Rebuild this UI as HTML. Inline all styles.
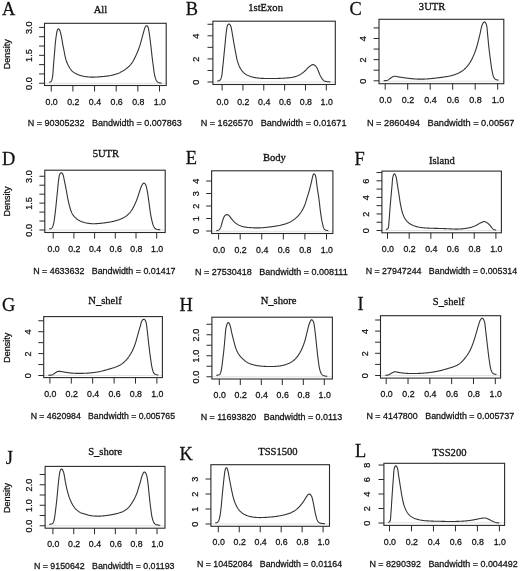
<!DOCTYPE html>
<html><head><meta charset="utf-8"><style>
html,body{margin:0;padding:0;background:#fff;}
svg{display:block;filter:blur(0.35px);}
.s{font-family:"Liberation Sans",sans-serif;fill:#111;}
.r{font-family:"Liberation Serif",serif;fill:#111;}
</style></head><body>
<svg width="520" height="571" viewBox="0 0 520 571">
<rect width="520" height="571" fill="#fff"/>
<line x1="44.50" y1="83.25" x2="166.20" y2="83.25" stroke="#ccc" stroke-width="0.60"/>
<rect x="44.50" y="23.30" width="121.70" height="62.20" fill="none" stroke="#2a2a2a" stroke-width="1.10"/>
<line x1="51.25" y1="85.50" x2="51.25" y2="91.50" stroke="#2a2a2a" stroke-width="1.00"/>
<text transform="translate(51.65,105.20) scale(1.0000,1.0650)" text-anchor="middle" class="s" font-size="8.80" stroke="#111" stroke-width="0.25">0.0</text>
<line x1="72.90" y1="85.50" x2="72.90" y2="91.50" stroke="#2a2a2a" stroke-width="1.00"/>
<text transform="translate(73.30,105.20) scale(1.0000,1.0650)" text-anchor="middle" class="s" font-size="8.80" stroke="#111" stroke-width="0.25">0.2</text>
<line x1="94.55" y1="85.50" x2="94.55" y2="91.50" stroke="#2a2a2a" stroke-width="1.00"/>
<text transform="translate(94.95,105.20) scale(1.0000,1.0650)" text-anchor="middle" class="s" font-size="8.80" stroke="#111" stroke-width="0.25">0.4</text>
<line x1="116.20" y1="85.50" x2="116.20" y2="91.50" stroke="#2a2a2a" stroke-width="1.00"/>
<text transform="translate(116.60,105.20) scale(1.0000,1.0650)" text-anchor="middle" class="s" font-size="8.80" stroke="#111" stroke-width="0.25">0.6</text>
<line x1="137.85" y1="85.50" x2="137.85" y2="91.50" stroke="#2a2a2a" stroke-width="1.00"/>
<text transform="translate(138.25,105.20) scale(1.0000,1.0650)" text-anchor="middle" class="s" font-size="8.80" stroke="#111" stroke-width="0.25">0.8</text>
<line x1="159.50" y1="85.50" x2="159.50" y2="91.50" stroke="#2a2a2a" stroke-width="1.00"/>
<text transform="translate(159.90,105.20) scale(1.0000,1.0650)" text-anchor="middle" class="s" font-size="8.80" stroke="#111" stroke-width="0.25">1.0</text>
<line x1="39.10" y1="83.25" x2="44.50" y2="83.25" stroke="#2a2a2a" stroke-width="1.00"/>
<line x1="39.10" y1="73.94" x2="44.50" y2="73.94" stroke="#2a2a2a" stroke-width="1.00"/>
<line x1="39.10" y1="64.63" x2="44.50" y2="64.63" stroke="#2a2a2a" stroke-width="1.00"/>
<line x1="39.10" y1="55.33" x2="44.50" y2="55.33" stroke="#2a2a2a" stroke-width="1.00"/>
<line x1="39.10" y1="46.02" x2="44.50" y2="46.02" stroke="#2a2a2a" stroke-width="1.00"/>
<line x1="39.10" y1="36.71" x2="44.50" y2="36.71" stroke="#2a2a2a" stroke-width="1.00"/>
<line x1="39.10" y1="27.40" x2="44.50" y2="27.40" stroke="#2a2a2a" stroke-width="1.00"/>
<text transform="translate(31.90,83.55) rotate(-90)" text-anchor="middle" class="s" font-size="9.10" stroke="#111" stroke-width="0.25">0.0</text>
<text transform="translate(31.90,55.60) rotate(-90)" text-anchor="middle" class="s" font-size="9.10" stroke="#111" stroke-width="0.25">1.5</text>
<text transform="translate(31.90,27.70) rotate(-90)" text-anchor="middle" class="s" font-size="9.10" stroke="#111" stroke-width="0.25">3.0</text>
<text transform="translate(9.70,54.20) rotate(-90)" text-anchor="middle" class="s" font-size="9.00" stroke="#111" stroke-width="0.25">Density</text>
<text transform="translate(2.00,14.50) scale(1.0000,1.0650)" class="r" font-size="18.40" stroke="#111" stroke-width="0.25">A</text>
<text transform="translate(100.40,12.80) scale(1.0000,1.0650)" text-anchor="middle" class="r" font-size="10.60" stroke="#111" stroke-width="0.30">All</text>
<text transform="translate(27.65,126.25) scale(1.0000,1.0650)" class="s" font-size="9.02" xml:space="preserve" stroke="#111" stroke-width="0.25">N = 90305232   Bandwidth = 0.007863</text>
<path d="M49.10,82.24 49.71,82.09 50.32,81.91 50.86,81.65 51.32,81.21 51.63,80.67 51.85,80.07 52.01,79.45 52.14,78.81 52.26,78.17 52.37,77.53 52.47,76.89 52.58,76.25 52.67,75.61 52.75,74.96 52.83,74.32 52.89,73.67 52.95,73.02 53.00,72.38 53.05,71.73 53.09,71.08 53.14,70.43 53.18,69.78 53.22,69.13 53.26,68.48 53.31,67.84 53.35,67.19 53.40,66.54 53.45,65.89 53.50,65.24 53.55,64.60 53.61,63.95 53.66,63.30 53.71,62.65 53.77,62.00 53.82,61.36 53.88,60.71 53.93,60.06 53.99,59.41 54.04,58.77 54.10,58.12 54.15,57.47 54.21,56.82 54.26,56.18 54.32,55.53 54.37,54.88 54.43,54.23 54.48,53.58 54.54,52.94 54.59,52.29 54.64,51.64 54.69,50.99 54.74,50.34 54.79,49.70 54.84,49.05 54.89,48.40 54.94,47.75 55.00,47.10 55.05,46.46 55.10,45.81 55.16,45.16 55.22,44.51 55.28,43.87 55.34,43.22 55.40,42.57 55.47,41.93 55.54,41.28 55.62,40.64 55.69,39.99 55.77,39.34 55.85,38.70 55.93,38.05 56.01,37.41 56.10,36.77 56.20,36.12 56.29,35.48 56.39,34.84 56.50,34.20 56.60,33.55 56.70,32.91 56.81,32.27 56.94,31.63 57.09,31.00 57.27,30.38 57.50,29.78 57.79,29.25 58.25,28.85 58.84,28.95 59.25,29.39 59.57,29.93 59.84,30.52 60.06,31.13 60.26,31.75 60.43,32.37 60.60,33.00 60.75,33.63 60.91,34.26 61.05,34.90 61.19,35.53 61.32,36.17 61.44,36.81 61.56,37.44 61.68,38.08 61.80,38.72 61.91,39.36 62.02,40.00 62.13,40.64 62.24,41.29 62.35,41.93 62.45,42.57 62.56,43.21 62.67,43.85 62.79,44.49 62.91,45.13 63.03,45.77 63.16,46.40 63.29,47.04 63.42,47.68 63.55,48.31 63.68,48.95 63.81,49.59 63.93,50.23 64.05,50.86 64.16,51.50 64.28,52.14 64.39,52.78 64.51,53.42 64.64,54.06 64.76,54.70 64.89,55.34 65.03,55.97 65.16,56.61 65.31,57.24 65.46,57.87 65.63,58.50 65.80,59.13 65.99,59.75 66.18,60.37 66.38,60.99 66.59,61.60 66.82,62.21 67.05,62.82 67.31,63.41 67.57,64.01 67.85,64.59 68.14,65.18 68.44,65.75 68.76,66.32 69.08,66.88 69.41,67.44 69.75,67.99 70.10,68.54 70.47,69.08 70.85,69.60 71.26,70.11 71.69,70.59 72.15,71.05 72.64,71.48 73.14,71.88 73.66,72.27 74.20,72.63 74.75,72.98 75.32,73.30 75.89,73.60 76.47,73.89 77.06,74.17 77.65,74.44 78.25,74.69 78.85,74.93 79.46,75.16 80.08,75.37 80.70,75.56 81.32,75.74 81.95,75.91 82.58,76.06 83.22,76.20 83.85,76.33 84.49,76.44 85.13,76.55 85.78,76.65 86.42,76.74 87.07,76.82 87.71,76.89 88.36,76.95 89.01,77.00 89.65,77.05 90.30,77.08 90.95,77.11 91.60,77.12 92.25,77.13 92.90,77.13 93.55,77.12 94.20,77.11 94.85,77.09 95.50,77.06 96.15,77.03 96.80,77.00 97.45,76.96 98.10,76.92 98.75,76.87 99.39,76.83 100.04,76.78 100.69,76.72 101.34,76.67 101.99,76.62 102.63,76.56 103.28,76.50 103.93,76.44 104.57,76.38 105.22,76.31 105.87,76.24 106.51,76.17 107.16,76.09 107.80,76.01 108.45,75.91 109.09,75.80 109.73,75.69 110.36,75.57 111.00,75.43 111.63,75.29 112.27,75.15 112.90,74.99 113.53,74.82 114.15,74.65 114.78,74.47 115.40,74.28 116.02,74.08 116.63,73.88 117.25,73.66 117.85,73.43 118.46,73.19 119.05,72.93 119.65,72.66 120.23,72.38 120.81,72.08 121.38,71.77 121.95,71.46 122.51,71.13 123.07,70.81 123.63,70.47 124.18,70.12 124.72,69.76 125.26,69.40 125.78,69.01 126.30,68.62 126.81,68.21 127.31,67.80 127.80,67.37 128.28,66.94 128.75,66.49 129.22,66.04 129.67,65.57 130.12,65.10 130.55,64.62 130.97,64.12 131.38,63.62 131.77,63.10 132.14,62.57 132.50,62.03 132.84,61.47 133.17,60.91 133.49,60.34 133.80,59.78 134.11,59.20 134.41,58.63 134.71,58.05 135.00,57.47 135.29,56.89 135.57,56.30 135.85,55.71 136.12,55.12 136.39,54.53 136.65,53.94 136.91,53.34 137.16,52.74 137.41,52.14 137.66,51.54 137.90,50.94 138.14,50.34 138.38,49.73 138.61,49.12 138.84,48.52 139.07,47.91 139.29,47.29 139.50,46.68 139.71,46.06 139.91,45.45 140.10,44.83 140.29,44.20 140.47,43.58 140.65,42.96 140.83,42.33 141.01,41.71 141.18,41.08 141.35,40.45 141.52,39.82 141.69,39.20 141.86,38.57 142.02,37.94 142.19,37.31 142.36,36.68 142.52,36.06 142.69,35.43 142.86,34.80 143.03,34.17 143.20,33.54 143.37,32.92 143.54,32.29 143.71,31.66 143.88,31.04 144.06,30.41 144.25,29.79 144.44,29.17 144.63,28.55 144.83,27.93 145.05,27.32 145.33,26.74 145.68,26.23 146.15,25.84 146.76,25.74 147.31,26.03 147.69,26.49 147.99,27.05 148.21,27.66 148.38,28.28 148.51,28.91 148.64,29.55 148.75,30.19 148.87,30.83 148.98,31.47 149.09,32.11 149.19,32.75 149.29,33.40 149.38,34.04 149.47,34.68 149.56,35.33 149.64,35.97 149.72,36.62 149.80,37.26 149.88,37.91 149.97,38.55 150.05,39.20 150.13,39.84 150.22,40.49 150.30,41.13 150.38,41.78 150.46,42.42 150.54,43.07 150.62,43.71 150.69,44.36 150.77,45.00 150.85,45.65 150.92,46.29 151.00,46.94 151.07,47.58 151.15,48.23 151.22,48.88 151.29,49.52 151.36,50.17 151.43,50.81 151.50,51.46 151.57,52.11 151.64,52.75 151.71,53.40 151.78,54.05 151.85,54.69 151.92,55.34 151.99,55.98 152.06,56.63 152.14,57.28 152.22,57.92 152.30,58.57 152.38,59.21 152.46,59.86 152.54,60.50 152.63,61.14 152.71,61.79 152.80,62.43 152.89,63.08 152.98,63.72 153.07,64.36 153.15,65.01 153.24,65.65 153.33,66.30 153.42,66.94 153.50,67.59 153.58,68.23 153.66,68.88 153.74,69.52 153.81,70.17 153.89,70.81 153.98,71.46 154.07,72.10 154.16,72.74 154.27,73.38 154.39,74.02 154.52,74.66 154.66,75.29 154.82,75.92 154.98,76.55 155.15,77.18 155.33,77.80 155.53,78.42 155.75,79.03 155.99,79.63 156.27,80.22 156.58,80.79 156.94,81.32 157.36,81.80 157.86,82.19 158.41,82.49 159.02,82.70 159.65,82.85 160.28,82.95 160.89,83.02 161.50,83.08 161.61,83.09" fill="none" stroke="#333" stroke-width="1.10" stroke-linejoin="round"/>
<line x1="212.90" y1="82.00" x2="335.30" y2="82.00" stroke="#ccc" stroke-width="0.60"/>
<rect x="212.90" y="21.20" width="122.40" height="63.30" fill="none" stroke="#2a2a2a" stroke-width="1.10"/>
<line x1="222.10" y1="84.50" x2="222.10" y2="90.50" stroke="#2a2a2a" stroke-width="1.00"/>
<text transform="translate(222.50,104.90) scale(1.0000,1.0650)" text-anchor="middle" class="s" font-size="8.80" stroke="#111" stroke-width="0.25">0.0</text>
<line x1="242.94" y1="84.50" x2="242.94" y2="90.50" stroke="#2a2a2a" stroke-width="1.00"/>
<text transform="translate(243.34,104.90) scale(1.0000,1.0650)" text-anchor="middle" class="s" font-size="8.80" stroke="#111" stroke-width="0.25">0.2</text>
<line x1="263.78" y1="84.50" x2="263.78" y2="90.50" stroke="#2a2a2a" stroke-width="1.00"/>
<text transform="translate(264.18,104.90) scale(1.0000,1.0650)" text-anchor="middle" class="s" font-size="8.80" stroke="#111" stroke-width="0.25">0.4</text>
<line x1="284.62" y1="84.50" x2="284.62" y2="90.50" stroke="#2a2a2a" stroke-width="1.00"/>
<text transform="translate(285.02,104.90) scale(1.0000,1.0650)" text-anchor="middle" class="s" font-size="8.80" stroke="#111" stroke-width="0.25">0.6</text>
<line x1="305.46" y1="84.50" x2="305.46" y2="90.50" stroke="#2a2a2a" stroke-width="1.00"/>
<text transform="translate(305.86,104.90) scale(1.0000,1.0650)" text-anchor="middle" class="s" font-size="8.80" stroke="#111" stroke-width="0.25">0.8</text>
<line x1="326.30" y1="84.50" x2="326.30" y2="90.50" stroke="#2a2a2a" stroke-width="1.00"/>
<text transform="translate(326.70,104.90) scale(1.0000,1.0650)" text-anchor="middle" class="s" font-size="8.80" stroke="#111" stroke-width="0.25">1.0</text>
<line x1="207.50" y1="82.00" x2="212.90" y2="82.00" stroke="#2a2a2a" stroke-width="1.00"/>
<line x1="207.50" y1="70.45" x2="212.90" y2="70.45" stroke="#2a2a2a" stroke-width="1.00"/>
<line x1="207.50" y1="58.90" x2="212.90" y2="58.90" stroke="#2a2a2a" stroke-width="1.00"/>
<line x1="207.50" y1="47.35" x2="212.90" y2="47.35" stroke="#2a2a2a" stroke-width="1.00"/>
<line x1="207.50" y1="35.80" x2="212.90" y2="35.80" stroke="#2a2a2a" stroke-width="1.00"/>
<line x1="207.50" y1="24.25" x2="212.90" y2="24.25" stroke="#2a2a2a" stroke-width="1.00"/>
<text transform="translate(198.70,82.30) rotate(-90)" text-anchor="middle" class="s" font-size="9.10" stroke="#111" stroke-width="0.25">0</text>
<text transform="translate(198.70,59.20) rotate(-90)" text-anchor="middle" class="s" font-size="9.10" stroke="#111" stroke-width="0.25">2</text>
<text transform="translate(198.70,36.10) rotate(-90)" text-anchor="middle" class="s" font-size="9.10" stroke="#111" stroke-width="0.25">4</text>
<text transform="translate(185.75,14.50) scale(1.0000,1.0650)" class="r" font-size="18.40" stroke="#111" stroke-width="0.25">B</text>
<text transform="translate(265.60,10.90) scale(1.0000,1.0650)" text-anchor="middle" class="r" font-size="10.60" stroke="#111" stroke-width="0.30">1stExon</text>
<text transform="translate(200.65,126.25) scale(1.0000,1.0650)" class="s" font-size="9.11" xml:space="preserve" stroke="#111" stroke-width="0.25">N = 1626570   Bandwidth = 0.01671</text>
<path d="M217.30,81.12 217.90,80.93 218.48,80.78 219.09,80.62 219.66,80.39 220.15,80.02 220.53,79.54 220.83,78.97 221.06,78.37 221.27,77.76 221.45,77.13 221.61,76.50 221.75,75.87 221.87,75.23 221.97,74.59 222.06,73.94 222.14,73.30 222.21,72.65 222.27,72.01 222.33,71.36 222.40,70.71 222.45,70.07 222.51,69.42 222.58,68.77 222.64,68.12 222.71,67.48 222.78,66.83 222.86,66.19 222.92,65.54 222.99,64.89 223.06,64.25 223.12,63.60 223.19,62.95 223.25,62.31 223.32,61.66 223.38,61.01 223.44,60.37 223.51,59.72 223.57,59.07 223.63,58.42 223.69,57.78 223.76,57.13 223.82,56.48 223.89,55.84 223.95,55.19 224.02,54.54 224.08,53.90 224.15,53.25 224.21,52.60 224.28,51.96 224.34,51.31 224.41,50.66 224.47,50.02 224.54,49.37 224.60,48.72 224.67,48.08 224.73,47.43 224.80,46.78 224.86,46.14 224.93,45.49 224.99,44.84 225.06,44.20 225.12,43.55 225.19,42.90 225.25,42.26 225.31,41.61 225.37,40.96 225.43,40.31 225.49,39.67 225.54,39.02 225.60,38.37 225.66,37.72 225.72,37.08 225.79,36.43 225.85,35.78 225.92,35.14 225.98,34.49 226.06,33.84 226.13,33.20 226.21,32.55 226.30,31.91 226.38,31.27 226.47,30.62 226.55,29.98 226.64,29.33 226.73,28.69 226.83,28.05 226.95,27.41 227.09,26.78 227.27,26.15 227.49,25.54 227.76,24.96 228.10,24.44 228.55,24.05 229.14,23.97 229.68,24.28 230.07,24.75 230.40,25.30 230.67,25.89 230.89,26.49 231.07,27.11 231.23,27.74 231.36,28.38 231.49,29.02 231.60,29.66 231.71,30.30 231.82,30.94 231.93,31.58 232.04,32.22 232.16,32.86 232.27,33.50 232.39,34.14 232.51,34.78 232.62,35.42 232.73,36.06 232.83,36.70 232.94,37.34 233.04,37.98 233.15,38.63 233.25,39.27 233.35,39.91 233.46,40.55 233.56,41.19 233.67,41.83 233.78,42.47 233.88,43.11 234.00,43.76 234.11,44.40 234.22,45.04 234.34,45.67 234.46,46.31 234.58,46.95 234.70,47.59 234.82,48.23 234.94,48.87 235.06,49.51 235.18,50.15 235.30,50.78 235.43,51.42 235.55,52.06 235.68,52.70 235.81,53.34 235.93,53.97 236.05,54.61 236.17,55.25 236.29,55.89 236.41,56.53 236.53,57.17 236.65,57.81 236.78,58.44 236.92,59.08 237.06,59.71 237.22,60.34 237.39,60.97 237.58,61.59 237.77,62.21 237.97,62.83 238.18,63.44 238.40,64.06 238.63,64.67 238.86,65.27 239.11,65.87 239.38,66.46 239.66,67.05 239.95,67.63 240.27,68.20 240.60,68.76 240.95,69.30 241.31,69.84 241.69,70.37 242.08,70.89 242.49,71.39 242.92,71.88 243.36,72.36 243.82,72.82 244.30,73.25 244.80,73.66 245.32,74.05 245.86,74.41 246.42,74.74 246.99,75.05 247.57,75.34 248.16,75.61 248.76,75.86 249.36,76.10 249.98,76.32 250.59,76.53 251.21,76.72 251.84,76.90 252.46,77.07 253.10,77.22 253.73,77.36 254.37,77.49 255.01,77.60 255.65,77.71 256.29,77.81 256.93,77.90 257.58,77.98 258.22,78.06 258.87,78.13 259.52,78.19 260.16,78.24 260.81,78.29 261.46,78.33 262.11,78.37 262.76,78.40 263.41,78.42 264.06,78.44 264.71,78.46 265.36,78.47 266.01,78.48 266.66,78.49 267.31,78.49 267.96,78.50 268.61,78.50 269.26,78.50 269.91,78.50 270.56,78.50 271.21,78.50 271.86,78.50 272.51,78.49 273.16,78.49 273.81,78.49 274.46,78.48 275.11,78.48 275.76,78.47 276.41,78.46 277.06,78.45 277.71,78.43 278.36,78.42 279.01,78.40 279.66,78.37 280.31,78.35 280.96,78.32 281.61,78.30 282.25,78.26 282.90,78.23 283.55,78.20 284.20,78.16 284.85,78.12 285.50,78.07 286.15,78.03 286.80,77.98 287.44,77.92 288.09,77.86 288.74,77.80 289.38,77.73 290.03,77.65 290.67,77.56 291.31,77.46 291.96,77.36 292.59,77.24 293.23,77.11 293.86,76.97 294.50,76.81 295.12,76.63 295.74,76.45 296.36,76.24 296.97,76.02 297.57,75.78 298.17,75.52 298.76,75.25 299.34,74.96 299.92,74.66 300.48,74.34 301.03,74.00 301.58,73.64 302.11,73.26 302.63,72.88 303.14,72.48 303.64,72.07 304.14,71.65 304.63,71.22 305.11,70.78 305.57,70.32 306.02,69.86 306.46,69.38 306.90,68.90 307.35,68.43 307.81,67.97 308.28,67.52 308.77,67.09 309.27,66.68 309.77,66.28 310.29,65.88 310.82,65.50 311.36,65.15 311.93,64.86 312.53,64.67 313.14,64.62 313.74,64.73 314.31,64.99 314.84,65.35 315.33,65.77 315.78,66.23 316.19,66.73 316.56,67.26 316.88,67.82 317.18,68.40 317.45,68.99 317.71,69.59 317.96,70.19 318.22,70.78 318.48,71.38 318.73,71.98 318.98,72.58 319.23,73.18 319.47,73.78 319.72,74.38 319.97,74.98 320.24,75.57 320.53,76.15 320.84,76.72 321.16,77.29 321.49,77.85 321.84,78.39 322.21,78.93 322.61,79.44 323.04,79.92 323.52,80.34 324.05,80.70 324.63,80.99 325.23,81.21 325.85,81.39 326.49,81.52 327.13,81.62 327.77,81.70 328.42,81.75 329.06,81.80 329.66,81.83 330.25,81.86" fill="none" stroke="#333" stroke-width="1.10" stroke-linejoin="round"/>
<line x1="379.00" y1="81.25" x2="503.80" y2="81.25" stroke="#ccc" stroke-width="0.60"/>
<rect x="379.00" y="19.30" width="124.80" height="64.40" fill="none" stroke="#2a2a2a" stroke-width="1.10"/>
<line x1="385.20" y1="83.70" x2="385.20" y2="89.70" stroke="#2a2a2a" stroke-width="1.00"/>
<text transform="translate(385.60,103.35) scale(1.0000,1.0650)" text-anchor="middle" class="s" font-size="9.00" stroke="#111" stroke-width="0.25">0.0</text>
<line x1="407.70" y1="83.70" x2="407.70" y2="89.70" stroke="#2a2a2a" stroke-width="1.00"/>
<text transform="translate(408.10,103.35) scale(1.0000,1.0650)" text-anchor="middle" class="s" font-size="9.00" stroke="#111" stroke-width="0.25">0.2</text>
<line x1="430.20" y1="83.70" x2="430.20" y2="89.70" stroke="#2a2a2a" stroke-width="1.00"/>
<text transform="translate(430.60,103.35) scale(1.0000,1.0650)" text-anchor="middle" class="s" font-size="9.00" stroke="#111" stroke-width="0.25">0.4</text>
<line x1="452.70" y1="83.70" x2="452.70" y2="89.70" stroke="#2a2a2a" stroke-width="1.00"/>
<text transform="translate(453.10,103.35) scale(1.0000,1.0650)" text-anchor="middle" class="s" font-size="9.00" stroke="#111" stroke-width="0.25">0.6</text>
<line x1="475.20" y1="83.70" x2="475.20" y2="89.70" stroke="#2a2a2a" stroke-width="1.00"/>
<text transform="translate(475.60,103.35) scale(1.0000,1.0650)" text-anchor="middle" class="s" font-size="9.00" stroke="#111" stroke-width="0.25">0.8</text>
<line x1="497.70" y1="83.70" x2="497.70" y2="89.70" stroke="#2a2a2a" stroke-width="1.00"/>
<text transform="translate(498.10,103.35) scale(1.0000,1.0650)" text-anchor="middle" class="s" font-size="9.00" stroke="#111" stroke-width="0.25">1.0</text>
<line x1="373.60" y1="80.80" x2="379.00" y2="80.80" stroke="#2a2a2a" stroke-width="1.00"/>
<line x1="373.60" y1="70.22" x2="379.00" y2="70.22" stroke="#2a2a2a" stroke-width="1.00"/>
<line x1="373.60" y1="59.64" x2="379.00" y2="59.64" stroke="#2a2a2a" stroke-width="1.00"/>
<line x1="373.60" y1="49.06" x2="379.00" y2="49.06" stroke="#2a2a2a" stroke-width="1.00"/>
<line x1="373.60" y1="38.48" x2="379.00" y2="38.48" stroke="#2a2a2a" stroke-width="1.00"/>
<line x1="373.60" y1="27.90" x2="379.00" y2="27.90" stroke="#2a2a2a" stroke-width="1.00"/>
<text transform="translate(365.90,81.10) rotate(-90)" text-anchor="middle" class="s" font-size="9.10" stroke="#111" stroke-width="0.25">0</text>
<text transform="translate(365.90,59.94) rotate(-90)" text-anchor="middle" class="s" font-size="9.10" stroke="#111" stroke-width="0.25">2</text>
<text transform="translate(365.90,38.78) rotate(-90)" text-anchor="middle" class="s" font-size="9.10" stroke="#111" stroke-width="0.25">4</text>
<text transform="translate(349.50,15.00) scale(1.0000,1.0650)" class="r" font-size="18.40" stroke="#111" stroke-width="0.25">C</text>
<text transform="translate(432.10,9.90) scale(1.0000,1.0650)" text-anchor="middle" class="r" font-size="10.60" stroke="#111" stroke-width="0.30">3UTR</text>
<text transform="translate(366.90,125.50) scale(1.0000,1.0650)" class="s" font-size="9.22" xml:space="preserve" stroke="#111" stroke-width="0.25">N = 2860494   Bandwidth = 0.00567</text>
<path d="M383.72,80.73 384.35,80.68 384.95,80.64 385.59,80.60 386.24,80.53 386.87,80.43 387.48,80.24 388.05,79.96 388.59,79.61 389.11,79.22 389.63,78.82 390.15,78.44 390.68,78.06 391.22,77.70 391.76,77.34 392.31,76.99 392.87,76.68 393.46,76.43 394.08,76.28 394.71,76.24 395.35,76.30 395.98,76.42 396.62,76.55 397.25,76.68 397.89,76.79 398.54,76.89 399.18,76.99 399.82,77.09 400.46,77.19 401.10,77.30 401.75,77.40 402.39,77.50 403.03,77.60 403.67,77.69 404.32,77.79 404.96,77.88 405.60,77.96 406.25,78.05 406.89,78.13 407.54,78.21 408.18,78.29 408.83,78.37 409.47,78.44 410.12,78.51 410.77,78.58 411.41,78.65 412.06,78.71 412.71,78.77 413.36,78.83 414.00,78.88 414.65,78.93 415.30,78.97 415.95,79.01 416.60,79.05 417.25,79.08 417.90,79.11 418.55,79.13 419.20,79.14 419.85,79.16 420.50,79.16 421.15,79.17 421.80,79.16 422.45,79.15 423.10,79.14 423.74,79.12 424.39,79.10 425.04,79.07 425.69,79.04 426.34,79.01 426.99,78.96 427.64,78.92 428.29,78.87 428.93,78.81 429.58,78.76 430.23,78.69 430.88,78.63 431.52,78.56 432.17,78.49 432.81,78.42 433.46,78.35 434.11,78.28 434.75,78.20 435.40,78.13 436.04,78.05 436.69,77.98 437.33,77.90 437.98,77.82 438.63,77.75 439.27,77.67 439.92,77.59 440.56,77.50 441.21,77.42 441.85,77.34 442.49,77.25 443.14,77.16 443.78,77.07 444.42,76.97 445.07,76.87 445.71,76.77 446.35,76.66 446.99,76.55 447.63,76.44 448.27,76.32 448.91,76.20 449.54,76.07 450.18,75.93 450.81,75.79 451.44,75.64 452.07,75.47 452.70,75.29 453.32,75.11 453.94,74.91 454.55,74.69 455.16,74.47 455.77,74.24 456.37,74.00 456.97,73.75 457.57,73.49 458.16,73.21 458.74,72.93 459.32,72.64 459.90,72.33 460.47,72.02 461.02,71.69 461.58,71.34 462.12,70.98 462.65,70.61 463.17,70.22 463.68,69.82 464.18,69.40 464.66,68.97 465.14,68.53 465.60,68.07 466.06,67.61 466.50,67.13 466.93,66.65 467.35,66.15 467.77,65.65 468.17,65.14 468.56,64.63 468.94,64.10 469.31,63.56 469.67,63.02 470.01,62.47 470.35,61.91 470.68,61.35 471.00,60.79 471.31,60.22 471.61,59.64 471.91,59.06 472.20,58.48 472.49,57.90 472.77,57.31 473.04,56.72 473.32,56.13 473.58,55.54 473.84,54.95 474.09,54.35 474.34,53.74 474.57,53.14 474.81,52.53 475.03,51.92 475.25,51.31 475.46,50.70 475.68,50.08 475.88,49.47 476.09,48.85 476.29,48.23 476.48,47.61 476.68,46.99 476.87,46.37 477.05,45.75 477.23,45.12 477.41,44.50 477.58,43.87 477.75,43.24 477.91,42.61 478.07,41.98 478.23,41.35 478.38,40.72 478.53,40.09 478.68,39.45 478.83,38.82 478.99,38.19 479.14,37.56 479.29,36.93 479.44,36.29 479.59,35.66 479.75,35.03 479.90,34.40 480.05,33.77 480.19,33.13 480.33,32.50 480.47,31.86 480.60,31.23 480.73,30.59 480.86,29.95 480.99,29.32 481.13,28.68 481.27,28.05 481.42,27.41 481.59,26.79 481.76,26.16 481.96,25.54 482.19,24.93 482.43,24.33 482.71,23.74 483.00,23.17 483.33,22.62 483.72,22.16 484.25,21.86 484.83,21.97 485.28,22.39 485.63,22.91 485.92,23.49 486.18,24.08 486.40,24.69 486.58,25.31 486.74,25.94 486.86,26.58 486.96,27.22 487.04,27.87 487.11,28.51 487.17,29.16 487.22,29.81 487.27,30.46 487.32,31.11 487.37,31.75 487.42,32.40 487.48,33.05 487.53,33.70 487.60,34.34 487.66,34.99 487.73,35.64 487.80,36.28 487.86,36.93 487.92,37.58 487.99,38.22 488.05,38.87 488.11,39.52 488.17,40.17 488.23,40.81 488.29,41.46 488.35,42.11 488.41,42.75 488.47,43.40 488.53,44.05 488.60,44.69 488.67,45.34 488.74,45.99 488.81,46.63 488.88,47.28 488.95,47.93 489.02,48.57 489.10,49.22 489.17,49.86 489.25,50.51 489.32,51.15 489.40,51.80 489.48,52.44 489.56,53.09 489.64,53.73 489.72,54.38 489.80,55.03 489.88,55.67 489.96,56.31 490.04,56.96 490.13,57.60 490.21,58.25 490.30,58.89 490.38,59.54 490.47,60.18 490.55,60.83 490.63,61.47 490.72,62.12 490.80,62.76 490.88,63.41 490.97,64.05 491.05,64.69 491.14,65.34 491.24,65.98 491.33,66.62 491.43,67.27 491.54,67.91 491.65,68.55 491.77,69.19 491.89,69.83 492.01,70.46 492.14,71.10 492.26,71.74 492.39,72.38 492.52,73.01 492.65,73.65 492.79,74.28 492.94,74.92 493.11,75.54 493.31,76.16 493.53,76.77 493.80,77.36 494.12,77.92 494.49,78.44 494.93,78.91 495.43,79.30 495.98,79.61 496.58,79.83 497.20,79.96 497.81,80.06 498.41,80.15 498.52,80.17" fill="none" stroke="#333" stroke-width="1.10" stroke-linejoin="round"/>
<line x1="44.80" y1="230.00" x2="165.20" y2="230.00" stroke="#ccc" stroke-width="0.60"/>
<rect x="44.80" y="170.20" width="120.40" height="62.30" fill="none" stroke="#2a2a2a" stroke-width="1.10"/>
<line x1="53.20" y1="232.50" x2="53.20" y2="238.50" stroke="#2a2a2a" stroke-width="1.00"/>
<text transform="translate(53.60,252.10) scale(1.0000,1.0650)" text-anchor="middle" class="s" font-size="8.80" stroke="#111" stroke-width="0.25">0.0</text>
<line x1="73.90" y1="232.50" x2="73.90" y2="238.50" stroke="#2a2a2a" stroke-width="1.00"/>
<text transform="translate(74.30,252.10) scale(1.0000,1.0650)" text-anchor="middle" class="s" font-size="8.80" stroke="#111" stroke-width="0.25">0.2</text>
<line x1="94.60" y1="232.50" x2="94.60" y2="238.50" stroke="#2a2a2a" stroke-width="1.00"/>
<text transform="translate(95.00,252.10) scale(1.0000,1.0650)" text-anchor="middle" class="s" font-size="8.80" stroke="#111" stroke-width="0.25">0.4</text>
<line x1="115.30" y1="232.50" x2="115.30" y2="238.50" stroke="#2a2a2a" stroke-width="1.00"/>
<text transform="translate(115.70,252.10) scale(1.0000,1.0650)" text-anchor="middle" class="s" font-size="8.80" stroke="#111" stroke-width="0.25">0.6</text>
<line x1="136.00" y1="232.50" x2="136.00" y2="238.50" stroke="#2a2a2a" stroke-width="1.00"/>
<text transform="translate(136.40,252.10) scale(1.0000,1.0650)" text-anchor="middle" class="s" font-size="8.80" stroke="#111" stroke-width="0.25">0.8</text>
<line x1="156.70" y1="232.50" x2="156.70" y2="238.50" stroke="#2a2a2a" stroke-width="1.00"/>
<text transform="translate(157.10,252.10) scale(1.0000,1.0650)" text-anchor="middle" class="s" font-size="8.80" stroke="#111" stroke-width="0.25">1.0</text>
<line x1="39.40" y1="230.00" x2="44.80" y2="230.00" stroke="#2a2a2a" stroke-width="1.00"/>
<line x1="39.40" y1="221.04" x2="44.80" y2="221.04" stroke="#2a2a2a" stroke-width="1.00"/>
<line x1="39.40" y1="212.08" x2="44.80" y2="212.08" stroke="#2a2a2a" stroke-width="1.00"/>
<line x1="39.40" y1="203.12" x2="44.80" y2="203.12" stroke="#2a2a2a" stroke-width="1.00"/>
<line x1="39.40" y1="194.17" x2="44.80" y2="194.17" stroke="#2a2a2a" stroke-width="1.00"/>
<line x1="39.40" y1="185.21" x2="44.80" y2="185.21" stroke="#2a2a2a" stroke-width="1.00"/>
<line x1="39.40" y1="176.25" x2="44.80" y2="176.25" stroke="#2a2a2a" stroke-width="1.00"/>
<text transform="translate(31.90,230.30) rotate(-90)" text-anchor="middle" class="s" font-size="9.10" stroke="#111" stroke-width="0.25">0.0</text>
<text transform="translate(31.90,203.40) rotate(-90)" text-anchor="middle" class="s" font-size="9.10" stroke="#111" stroke-width="0.25">1.5</text>
<text transform="translate(31.90,176.55) rotate(-90)" text-anchor="middle" class="s" font-size="9.10" stroke="#111" stroke-width="0.25">3.0</text>
<text transform="translate(9.70,201.40) rotate(-90)" text-anchor="middle" class="s" font-size="9.00" stroke="#111" stroke-width="0.25">Density</text>
<text transform="translate(2.00,164.50) scale(1.0000,1.0650)" class="r" font-size="18.40" stroke="#111" stroke-width="0.25">D</text>
<text transform="translate(105.90,157.40) scale(1.0000,1.0650)" text-anchor="middle" class="r" font-size="10.60" stroke="#111" stroke-width="0.30">5UTR</text>
<text transform="translate(33.15,273.75) scale(1.0000,1.0650)" class="s" font-size="8.91" xml:space="preserve" stroke="#111" stroke-width="0.25">N = 4633632   Bandwidth = 0.01417</text>
<path d="M49.30,229.09 49.89,228.89 50.47,228.71 51.06,228.50 51.61,228.20 52.07,227.79 52.43,227.28 52.70,226.70 52.92,226.09 53.11,225.47 53.28,224.84 53.44,224.22 53.60,223.59 53.75,222.95 53.88,222.32 54.00,221.68 54.12,221.04 54.22,220.40 54.32,219.75 54.41,219.11 54.50,218.47 54.58,217.82 54.67,217.18 54.75,216.53 54.83,215.89 54.91,215.24 55.00,214.60 55.08,213.95 55.17,213.31 55.24,212.67 55.32,212.02 55.39,211.37 55.47,210.73 55.54,210.08 55.61,209.44 55.67,208.79 55.74,208.14 55.81,207.50 55.88,206.85 55.94,206.20 56.01,205.56 56.07,204.91 56.14,204.26 56.21,203.62 56.27,202.97 56.34,202.32 56.41,201.68 56.47,201.03 56.54,200.38 56.61,199.74 56.67,199.09 56.74,198.44 56.80,197.80 56.87,197.15 56.93,196.50 57.00,195.86 57.06,195.21 57.12,194.56 57.19,193.92 57.25,193.27 57.31,192.62 57.38,191.98 57.45,191.33 57.51,190.68 57.58,190.04 57.64,189.39 57.70,188.74 57.76,188.09 57.82,187.45 57.88,186.80 57.94,186.15 57.99,185.50 58.05,184.86 58.12,184.21 58.18,183.56 58.25,182.92 58.32,182.27 58.40,181.63 58.48,180.98 58.57,180.34 58.66,179.69 58.75,179.05 58.84,178.41 58.93,177.76 59.03,177.12 59.14,176.48 59.27,175.84 59.43,175.22 59.64,174.60 59.90,174.02 60.22,173.47 60.62,173.02 61.17,172.74 61.77,172.87 62.23,173.28 62.58,173.80 62.88,174.37 63.12,174.97 63.32,175.59 63.48,176.22 63.63,176.85 63.76,177.49 63.89,178.12 64.01,178.76 64.13,179.40 64.25,180.04 64.38,180.68 64.51,181.31 64.64,181.95 64.77,182.59 64.91,183.22 65.04,183.86 65.17,184.50 65.29,185.13 65.42,185.77 65.55,186.41 65.67,187.05 65.80,187.68 65.92,188.32 66.05,188.96 66.17,189.60 66.29,190.24 66.41,190.88 66.53,191.51 66.65,192.15 66.76,192.79 66.88,193.43 66.99,194.07 67.10,194.72 67.20,195.36 67.31,196.00 67.42,196.64 67.54,197.28 67.66,197.92 67.78,198.55 67.90,199.19 68.03,199.83 68.17,200.46 68.31,201.10 68.46,201.73 68.61,202.36 68.76,203.00 68.91,203.63 69.07,204.26 69.23,204.89 69.39,205.52 69.56,206.15 69.72,206.78 69.90,207.40 70.07,208.03 70.26,208.65 70.45,209.27 70.65,209.89 70.86,210.51 71.08,211.12 71.32,211.72 71.57,212.32 71.85,212.91 72.15,213.48 72.47,214.05 72.82,214.59 73.19,215.13 73.57,215.65 73.98,216.16 74.40,216.65 74.84,217.13 75.30,217.59 75.77,218.03 76.26,218.46 76.77,218.86 77.29,219.25 77.83,219.62 78.38,219.96 78.94,220.29 79.51,220.60 80.08,220.90 80.67,221.17 81.27,221.43 81.87,221.67 82.48,221.90 83.10,222.11 83.72,222.30 84.34,222.49 84.97,222.66 85.60,222.82 86.23,222.96 86.87,223.09 87.50,223.21 88.15,223.32 88.79,223.41 89.43,223.49 90.08,223.56 90.73,223.61 91.38,223.66 92.02,223.69 92.67,223.71 93.32,223.72 93.97,223.72 94.62,223.71 95.27,223.69 95.92,223.67 96.57,223.64 97.22,223.60 97.87,223.56 98.52,223.51 99.17,223.46 99.81,223.40 100.46,223.34 101.11,223.27 101.75,223.20 102.40,223.13 103.04,223.05 103.69,222.97 104.33,222.88 104.98,222.80 105.62,222.70 106.26,222.61 106.91,222.51 107.55,222.41 108.19,222.31 108.83,222.20 109.47,222.10 110.11,221.98 110.75,221.87 111.39,221.74 112.03,221.62 112.66,221.48 113.30,221.34 113.93,221.19 114.56,221.03 115.19,220.87 115.82,220.70 116.44,220.52 117.06,220.33 117.68,220.13 118.30,219.92 118.91,219.70 119.52,219.48 120.12,219.24 120.72,218.99 121.32,218.73 121.91,218.46 122.50,218.18 123.08,217.89 123.65,217.58 124.22,217.27 124.78,216.94 125.33,216.59 125.87,216.23 126.39,215.85 126.91,215.45 127.41,215.04 127.90,214.61 128.38,214.17 128.84,213.72 129.29,213.25 129.73,212.77 130.15,212.28 130.55,211.77 130.95,211.25 131.32,210.72 131.69,210.18 132.04,209.64 132.38,209.08 132.70,208.52 133.02,207.95 133.33,207.38 133.63,206.81 133.93,206.23 134.22,205.65 134.51,205.06 134.79,204.48 135.06,203.89 135.32,203.29 135.58,202.70 135.84,202.10 136.09,201.50 136.33,200.90 136.56,200.29 136.79,199.68 137.02,199.07 137.24,198.46 137.46,197.85 137.68,197.24 137.89,196.63 138.10,196.01 138.30,195.39 138.50,194.77 138.69,194.15 138.89,193.53 139.09,192.92 139.30,192.30 139.50,191.68 139.71,191.06 139.91,190.45 140.10,189.83 140.31,189.21 140.52,188.59 140.73,187.98 140.97,187.37 141.21,186.77 141.48,186.18 141.77,185.60 142.08,185.03 142.42,184.48 142.78,183.95 143.19,183.49 143.70,183.17 144.32,183.19 144.80,183.54 145.18,184.03 145.51,184.59 145.79,185.17 146.03,185.77 146.23,186.39 146.40,187.01 146.56,187.64 146.70,188.28 146.83,188.91 146.95,189.55 147.08,190.19 147.20,190.83 147.33,191.46 147.45,192.10 147.56,192.74 147.67,193.38 147.78,194.03 147.88,194.67 147.98,195.31 148.07,195.95 148.17,196.60 148.26,197.24 148.36,197.88 148.45,198.53 148.54,199.17 148.63,199.81 148.72,200.46 148.81,201.10 148.90,201.74 148.98,202.39 149.06,203.03 149.14,203.68 149.22,204.32 149.30,204.97 149.38,205.61 149.46,206.26 149.54,206.90 149.62,207.55 149.70,208.19 149.79,208.84 149.88,209.48 149.97,210.13 150.07,210.77 150.17,211.41 150.27,212.05 150.37,212.69 150.48,213.33 150.59,213.98 150.70,214.62 150.81,215.26 150.93,215.90 151.04,216.54 151.16,217.17 151.29,217.81 151.42,218.45 151.56,219.08 151.70,219.72 151.84,220.35 151.99,220.98 152.15,221.62 152.30,222.25 152.46,222.88 152.63,223.51 152.81,224.13 153.00,224.75 153.23,225.36 153.48,225.95 153.76,226.54 154.08,227.10 154.43,227.64 154.83,228.15 155.29,228.58 155.82,228.93 156.41,229.17 157.03,229.32 157.67,229.42 158.31,229.52 158.94,229.62 159.54,229.72 160.16,229.83 160.21,229.84" fill="none" stroke="#333" stroke-width="1.10" stroke-linejoin="round"/>
<line x1="211.60" y1="231.25" x2="332.90" y2="231.25" stroke="#ccc" stroke-width="0.60"/>
<rect x="211.60" y="170.80" width="121.30" height="62.70" fill="none" stroke="#2a2a2a" stroke-width="1.10"/>
<line x1="218.60" y1="233.50" x2="218.60" y2="239.50" stroke="#2a2a2a" stroke-width="1.00"/>
<text transform="translate(219.00,252.60) scale(1.0000,1.0650)" text-anchor="middle" class="s" font-size="8.80" stroke="#111" stroke-width="0.25">0.0</text>
<line x1="240.18" y1="233.50" x2="240.18" y2="239.50" stroke="#2a2a2a" stroke-width="1.00"/>
<text transform="translate(240.58,252.60) scale(1.0000,1.0650)" text-anchor="middle" class="s" font-size="8.80" stroke="#111" stroke-width="0.25">0.2</text>
<line x1="261.76" y1="233.50" x2="261.76" y2="239.50" stroke="#2a2a2a" stroke-width="1.00"/>
<text transform="translate(262.16,252.60) scale(1.0000,1.0650)" text-anchor="middle" class="s" font-size="8.80" stroke="#111" stroke-width="0.25">0.4</text>
<line x1="283.34" y1="233.50" x2="283.34" y2="239.50" stroke="#2a2a2a" stroke-width="1.00"/>
<text transform="translate(283.74,252.60) scale(1.0000,1.0650)" text-anchor="middle" class="s" font-size="8.80" stroke="#111" stroke-width="0.25">0.6</text>
<line x1="304.92" y1="233.50" x2="304.92" y2="239.50" stroke="#2a2a2a" stroke-width="1.00"/>
<text transform="translate(305.32,252.60) scale(1.0000,1.0650)" text-anchor="middle" class="s" font-size="8.80" stroke="#111" stroke-width="0.25">0.8</text>
<line x1="326.50" y1="233.50" x2="326.50" y2="239.50" stroke="#2a2a2a" stroke-width="1.00"/>
<text transform="translate(326.90,252.60) scale(1.0000,1.0650)" text-anchor="middle" class="s" font-size="8.80" stroke="#111" stroke-width="0.25">1.0</text>
<line x1="206.20" y1="231.00" x2="211.60" y2="231.00" stroke="#2a2a2a" stroke-width="1.00"/>
<line x1="206.20" y1="218.50" x2="211.60" y2="218.50" stroke="#2a2a2a" stroke-width="1.00"/>
<line x1="206.20" y1="206.00" x2="211.60" y2="206.00" stroke="#2a2a2a" stroke-width="1.00"/>
<line x1="206.20" y1="193.50" x2="211.60" y2="193.50" stroke="#2a2a2a" stroke-width="1.00"/>
<line x1="206.20" y1="181.00" x2="211.60" y2="181.00" stroke="#2a2a2a" stroke-width="1.00"/>
<text transform="translate(198.90,231.30) rotate(-90)" text-anchor="middle" class="s" font-size="9.10" stroke="#111" stroke-width="0.25">0</text>
<text transform="translate(198.90,218.80) rotate(-90)" text-anchor="middle" class="s" font-size="9.10" stroke="#111" stroke-width="0.25">1</text>
<text transform="translate(198.90,206.30) rotate(-90)" text-anchor="middle" class="s" font-size="9.10" stroke="#111" stroke-width="0.25">2</text>
<text transform="translate(198.90,193.80) rotate(-90)" text-anchor="middle" class="s" font-size="9.10" stroke="#111" stroke-width="0.25">3</text>
<text transform="translate(198.90,181.30) rotate(-90)" text-anchor="middle" class="s" font-size="9.10" stroke="#111" stroke-width="0.25">4</text>
<text transform="translate(185.75,163.75) scale(1.0000,1.0650)" class="r" font-size="18.40" stroke="#111" stroke-width="0.25">E</text>
<text transform="translate(274.40,160.50) scale(1.0000,1.0650)" text-anchor="middle" class="r" font-size="10.60" stroke="#111" stroke-width="0.30">Body</text>
<text transform="translate(194.90,275.00) scale(1.0000,1.0650)" class="s" font-size="9.02" xml:space="preserve" stroke="#111" stroke-width="0.25">N = 27530418   Bandwidth = 0.008111</text>
<path d="M216.41,230.77 217.02,230.61 217.60,230.46 218.20,230.26 218.77,229.98 219.26,229.60 219.68,229.12 220.03,228.58 220.34,228.01 220.61,227.42 220.86,226.82 221.09,226.22 221.29,225.60 221.47,224.97 221.64,224.35 221.81,223.72 221.99,223.10 222.17,222.47 222.35,221.85 222.52,221.22 222.70,220.59 222.88,219.97 223.07,219.35 223.28,218.73 223.51,218.13 223.75,217.53 224.03,216.94 224.34,216.37 224.71,215.85 225.14,215.38 225.64,214.99 226.20,214.72 226.79,214.59 227.39,214.65 227.97,214.87 228.51,215.20 229.01,215.61 229.47,216.06 229.88,216.56 230.27,217.08 230.65,217.61 231.03,218.13 231.43,218.65 231.83,219.16 232.23,219.67 232.65,220.17 233.07,220.66 233.51,221.14 233.96,221.61 234.43,222.05 234.91,222.49 235.41,222.91 235.92,223.31 236.45,223.69 236.98,224.05 237.54,224.39 238.10,224.71 238.68,225.01 239.27,225.29 239.86,225.55 240.46,225.80 241.07,226.03 241.68,226.24 242.30,226.43 242.93,226.61 243.56,226.76 244.19,226.90 244.83,227.02 245.47,227.12 246.12,227.21 246.76,227.29 247.41,227.37 248.05,227.43 248.70,227.49 249.35,227.55 250.00,227.60 250.65,227.65 251.29,227.69 251.94,227.73 252.59,227.77 253.24,227.80 253.89,227.83 254.54,227.86 255.19,227.89 255.84,227.90 256.49,227.92 257.14,227.92 257.79,227.92 258.44,227.92 259.09,227.90 259.74,227.88 260.39,227.85 261.04,227.82 261.68,227.78 262.33,227.73 262.98,227.68 263.63,227.62 264.28,227.56 264.92,227.50 265.57,227.43 266.22,227.36 266.86,227.29 267.51,227.22 268.15,227.15 268.80,227.07 269.44,227.00 270.09,226.92 270.73,226.84 271.38,226.75 272.02,226.67 272.67,226.58 273.31,226.49 273.96,226.40 274.60,226.31 275.24,226.21 275.88,226.11 276.53,226.01 277.17,225.91 277.81,225.79 278.45,225.68 279.08,225.55 279.72,225.42 280.36,225.29 280.99,225.14 281.62,224.99 282.25,224.82 282.88,224.65 283.50,224.48 284.13,224.29 284.75,224.10 285.37,223.90 285.98,223.69 286.59,223.47 287.20,223.24 287.80,223.00 288.40,222.75 289.00,222.49 289.59,222.21 290.17,221.93 290.75,221.63 291.32,221.31 291.88,220.99 292.43,220.64 292.97,220.29 293.51,219.92 294.04,219.54 294.55,219.15 295.06,218.75 295.56,218.33 296.04,217.89 296.52,217.45 296.98,217.00 297.44,216.54 297.89,216.06 298.33,215.59 298.76,215.10 299.19,214.61 299.60,214.11 300.01,213.60 300.40,213.09 300.79,212.56 301.16,212.03 301.52,211.49 301.86,210.94 302.19,210.38 302.51,209.81 302.82,209.24 303.12,208.67 303.41,208.08 303.69,207.50 303.96,206.91 304.22,206.31 304.47,205.71 304.72,205.11 304.95,204.51 305.18,203.90 305.40,203.28 305.60,202.67 305.80,202.05 305.98,201.42 306.16,200.80 306.33,200.17 306.51,199.55 306.69,198.92 306.88,198.30 307.07,197.68 307.26,197.06 307.46,196.44 307.66,195.82 307.86,195.20 308.06,194.59 308.26,193.97 308.45,193.34 308.64,192.72 308.82,192.10 309.00,191.48 309.18,190.85 309.36,190.23 309.54,189.60 309.71,188.97 309.88,188.34 310.04,187.72 310.20,187.09 310.36,186.46 310.52,185.83 310.67,185.19 310.82,184.56 310.97,183.93 311.11,183.30 311.26,182.66 311.41,182.03 311.55,181.40 311.69,180.76 311.84,180.13 311.98,179.49 312.12,178.86 312.27,178.22 312.41,177.59 312.54,176.96 312.69,176.32 312.85,175.70 313.06,175.09 313.34,174.53 313.73,174.07 314.30,173.91 314.79,174.26 315.12,174.81 315.36,175.40 315.55,176.02 315.70,176.65 315.83,177.29 315.96,177.92 316.07,178.56 316.17,179.21 316.26,179.85 316.35,180.49 316.42,181.14 316.49,181.79 316.56,182.43 316.63,183.08 316.71,183.72 316.79,184.37 316.87,185.01 316.96,185.66 317.05,186.30 317.13,186.94 317.23,187.59 317.32,188.23 317.41,188.87 317.51,189.52 317.61,190.16 317.71,190.80 317.82,191.44 317.92,192.08 318.02,192.73 318.12,193.37 318.22,194.01 318.32,194.65 318.42,195.30 318.52,195.94 318.61,196.58 318.71,197.22 318.80,197.87 318.89,198.51 318.98,199.16 319.07,199.80 319.15,200.44 319.23,201.09 319.31,201.73 319.39,202.38 319.46,203.03 319.53,203.67 319.61,204.32 319.68,204.96 319.75,205.61 319.82,206.26 319.89,206.90 319.96,207.55 320.03,208.19 320.10,208.84 320.18,209.49 320.26,210.13 320.34,210.78 320.42,211.42 320.51,212.06 320.60,212.71 320.69,213.35 320.78,214.00 320.87,214.64 320.97,215.28 321.06,215.92 321.16,216.57 321.26,217.21 321.36,217.85 321.47,218.49 321.58,219.13 321.69,219.77 321.80,220.41 321.93,221.05 322.06,221.69 322.20,222.32 322.34,222.96 322.48,223.59 322.63,224.23 322.77,224.86 322.92,225.49 323.08,226.12 323.26,226.75 323.46,227.36 323.69,227.97 323.97,228.54 324.33,229.07 324.76,229.53 325.28,229.89 325.85,230.16 326.47,230.33 327.10,230.44 327.73,230.52 328.27,230.59" fill="none" stroke="#333" stroke-width="1.10" stroke-linejoin="round"/>
<line x1="381.90" y1="230.50" x2="501.40" y2="230.50" stroke="#ccc" stroke-width="0.60"/>
<rect x="381.90" y="171.10" width="119.50" height="61.70" fill="none" stroke="#2a2a2a" stroke-width="1.10"/>
<line x1="387.50" y1="232.80" x2="387.50" y2="238.80" stroke="#2a2a2a" stroke-width="1.00"/>
<text transform="translate(387.90,251.90) scale(1.0000,1.0650)" text-anchor="middle" class="s" font-size="8.80" stroke="#111" stroke-width="0.25">0.0</text>
<line x1="409.18" y1="232.80" x2="409.18" y2="238.80" stroke="#2a2a2a" stroke-width="1.00"/>
<text transform="translate(409.58,251.90) scale(1.0000,1.0650)" text-anchor="middle" class="s" font-size="8.80" stroke="#111" stroke-width="0.25">0.2</text>
<line x1="430.86" y1="232.80" x2="430.86" y2="238.80" stroke="#2a2a2a" stroke-width="1.00"/>
<text transform="translate(431.26,251.90) scale(1.0000,1.0650)" text-anchor="middle" class="s" font-size="8.80" stroke="#111" stroke-width="0.25">0.4</text>
<line x1="452.54" y1="232.80" x2="452.54" y2="238.80" stroke="#2a2a2a" stroke-width="1.00"/>
<text transform="translate(452.94,251.90) scale(1.0000,1.0650)" text-anchor="middle" class="s" font-size="8.80" stroke="#111" stroke-width="0.25">0.6</text>
<line x1="474.22" y1="232.80" x2="474.22" y2="238.80" stroke="#2a2a2a" stroke-width="1.00"/>
<text transform="translate(474.62,251.90) scale(1.0000,1.0650)" text-anchor="middle" class="s" font-size="8.80" stroke="#111" stroke-width="0.25">0.8</text>
<line x1="495.90" y1="232.80" x2="495.90" y2="238.80" stroke="#2a2a2a" stroke-width="1.00"/>
<text transform="translate(496.30,251.90) scale(1.0000,1.0650)" text-anchor="middle" class="s" font-size="8.80" stroke="#111" stroke-width="0.25">1.0</text>
<line x1="376.50" y1="230.50" x2="381.90" y2="230.50" stroke="#2a2a2a" stroke-width="1.00"/>
<line x1="376.50" y1="222.22" x2="381.90" y2="222.22" stroke="#2a2a2a" stroke-width="1.00"/>
<line x1="376.50" y1="213.94" x2="381.90" y2="213.94" stroke="#2a2a2a" stroke-width="1.00"/>
<line x1="376.50" y1="205.66" x2="381.90" y2="205.66" stroke="#2a2a2a" stroke-width="1.00"/>
<line x1="376.50" y1="197.38" x2="381.90" y2="197.38" stroke="#2a2a2a" stroke-width="1.00"/>
<line x1="376.50" y1="189.10" x2="381.90" y2="189.10" stroke="#2a2a2a" stroke-width="1.00"/>
<line x1="376.50" y1="180.82" x2="381.90" y2="180.82" stroke="#2a2a2a" stroke-width="1.00"/>
<line x1="376.50" y1="172.54" x2="381.90" y2="172.54" stroke="#2a2a2a" stroke-width="1.00"/>
<text transform="translate(368.90,230.80) rotate(-90)" text-anchor="middle" class="s" font-size="9.10" stroke="#111" stroke-width="0.25">0</text>
<text transform="translate(368.90,214.24) rotate(-90)" text-anchor="middle" class="s" font-size="9.10" stroke="#111" stroke-width="0.25">2</text>
<text transform="translate(368.90,197.68) rotate(-90)" text-anchor="middle" class="s" font-size="9.10" stroke="#111" stroke-width="0.25">4</text>
<text transform="translate(368.90,181.12) rotate(-90)" text-anchor="middle" class="s" font-size="9.10" stroke="#111" stroke-width="0.25">6</text>
<text transform="translate(354.50,165.00) scale(1.0000,1.0650)" class="r" font-size="18.40" stroke="#111" stroke-width="0.25">F</text>
<text transform="translate(441.90,163.70) scale(1.0000,1.0650)" text-anchor="middle" class="r" font-size="10.60" stroke="#111" stroke-width="0.30">Island</text>
<text transform="translate(365.65,273.75) scale(1.0000,1.0650)" class="s" font-size="8.86" xml:space="preserve" stroke="#111" stroke-width="0.25">N = 27947244   Bandwidth = 0.005314</text>
<path d="M386.10,229.59 386.69,229.38 387.26,229.12 387.74,228.77 388.10,228.28 388.34,227.70 388.50,227.08 388.60,226.44 388.67,225.80 388.73,225.15 388.78,224.50 388.82,223.85 388.86,223.20 388.91,222.56 388.97,221.91 389.03,221.26 389.09,220.61 389.15,219.97 389.21,219.32 389.26,218.67 389.31,218.02 389.36,217.38 389.41,216.73 389.45,216.08 389.50,215.43 389.54,214.78 389.59,214.13 389.63,213.48 389.67,212.84 389.72,212.19 389.76,211.54 389.81,210.89 389.86,210.24 389.91,209.59 389.96,208.95 390.01,208.30 390.06,207.65 390.12,207.00 390.17,206.36 390.23,205.71 390.28,205.06 390.33,204.41 390.39,203.76 390.44,203.12 390.50,202.47 390.55,201.82 390.61,201.17 390.66,200.53 390.72,199.88 390.78,199.23 390.83,198.58 390.89,197.94 390.95,197.29 391.00,196.64 391.06,195.99 391.12,195.35 391.18,194.70 391.24,194.05 391.30,193.40 391.36,192.76 391.41,192.11 391.47,191.46 391.53,190.82 391.60,190.17 391.66,189.52 391.72,188.87 391.78,188.23 391.84,187.58 391.90,186.93 391.96,186.29 392.02,185.64 392.08,184.99 392.13,184.34 392.17,183.69 392.22,183.05 392.26,182.40 392.31,181.75 392.36,181.10 392.41,180.45 392.47,179.81 392.54,179.16 392.62,178.52 392.72,177.87 392.84,177.24 392.99,176.60 393.15,175.97 393.33,175.35 393.54,174.75 393.83,174.18 394.33,173.84 394.86,174.13 395.21,174.66 395.48,175.24 395.72,175.84 395.93,176.46 396.11,177.08 396.28,177.71 396.41,178.34 396.54,178.98 396.64,179.62 396.75,180.26 396.84,180.91 396.93,181.55 397.03,182.19 397.12,182.84 397.21,183.48 397.31,184.12 397.41,184.76 397.52,185.40 397.62,186.05 397.72,186.69 397.83,187.33 397.93,187.97 398.03,188.61 398.13,189.26 398.23,189.90 398.33,190.54 398.43,191.18 398.53,191.82 398.63,192.47 398.73,193.11 398.83,193.75 398.93,194.39 399.03,195.04 399.12,195.68 399.22,196.32 399.31,196.96 399.41,197.61 399.50,198.25 399.59,198.89 399.69,199.54 399.78,200.18 399.88,200.82 399.98,201.47 400.09,202.11 400.20,202.75 400.31,203.39 400.43,204.03 400.56,204.66 400.68,205.30 400.81,205.94 400.94,206.58 401.07,207.21 401.21,207.85 401.34,208.48 401.48,209.12 401.63,209.75 401.78,210.38 401.94,211.01 402.11,211.64 402.29,212.27 402.48,212.89 402.68,213.50 402.90,214.11 403.14,214.72 403.38,215.32 403.63,215.92 403.90,216.52 404.18,217.10 404.47,217.68 404.77,218.26 405.10,218.82 405.44,219.37 405.81,219.90 406.20,220.42 406.62,220.92 407.06,221.40 407.52,221.85 408.00,222.29 408.50,222.70 409.01,223.10 409.54,223.47 410.08,223.83 410.63,224.18 411.20,224.50 411.77,224.81 412.35,225.10 412.94,225.37 413.54,225.62 414.15,225.85 414.76,226.06 415.38,226.26 416.00,226.45 416.63,226.62 417.26,226.78 417.89,226.93 418.53,227.07 419.16,227.19 419.80,227.31 420.45,227.42 421.09,227.51 421.73,227.60 422.38,227.68 423.02,227.75 423.67,227.81 424.32,227.87 424.97,227.93 425.61,227.97 426.26,228.02 426.91,228.06 427.56,228.10 428.21,228.13 428.86,228.16 429.51,228.19 430.16,228.22 430.81,228.24 431.46,228.27 432.11,228.29 432.75,228.30 433.40,228.32 434.05,228.34 434.70,228.35 435.35,228.36 436.00,228.38 436.65,228.39 437.30,228.41 437.95,228.42 438.60,228.44 439.25,228.45 439.90,228.47 440.55,228.49 441.20,228.50 441.85,228.52 442.50,228.54 443.15,228.56 443.80,228.58 444.45,228.61 445.10,228.63 445.75,228.65 446.40,228.68 447.05,228.71 447.70,228.74 448.35,228.77 449.00,228.81 449.65,228.84 450.29,228.88 450.94,228.91 451.59,228.95 452.24,228.98 452.89,229.02 453.54,229.04 454.19,229.07 454.84,229.09 455.49,229.10 456.14,229.11 456.79,229.11 457.44,229.10 458.09,229.08 458.74,229.06 459.39,229.03 460.04,228.99 460.68,228.95 461.33,228.89 461.98,228.84 462.63,228.77 463.27,228.70 463.92,228.63 464.56,228.55 465.21,228.46 465.85,228.37 466.49,228.27 467.13,228.16 467.77,228.05 468.41,227.93 469.05,227.80 469.69,227.66 470.32,227.51 470.95,227.35 471.57,227.18 472.19,226.99 472.81,226.78 473.42,226.56 474.03,226.33 474.63,226.08 475.22,225.81 475.81,225.54 476.39,225.24 476.96,224.93 477.52,224.61 478.08,224.28 478.64,223.95 479.21,223.63 479.78,223.32 480.35,223.01 480.93,222.72 481.51,222.42 482.09,222.14 482.69,221.88 483.29,221.67 483.91,221.56 484.54,221.57 485.16,221.71 485.75,221.95 486.31,222.26 486.86,222.61 487.39,222.98 487.90,223.37 488.40,223.79 488.87,224.23 489.33,224.69 489.78,225.17 490.21,225.65 490.62,226.15 491.01,226.67 491.40,227.20 491.78,227.72 492.18,228.23 492.62,228.70 493.11,229.11 493.66,229.43 494.25,229.67 494.87,229.83 495.47,229.92 496.08,229.98 496.19,229.98" fill="none" stroke="#333" stroke-width="1.10" stroke-linejoin="round"/>
<line x1="43.70" y1="375.50" x2="162.40" y2="375.50" stroke="#ccc" stroke-width="0.60"/>
<rect x="43.70" y="316.60" width="118.70" height="61.00" fill="none" stroke="#2a2a2a" stroke-width="1.10"/>
<line x1="49.90" y1="377.60" x2="49.90" y2="383.60" stroke="#2a2a2a" stroke-width="1.00"/>
<text transform="translate(50.30,396.90) scale(1.0000,1.0650)" text-anchor="middle" class="s" font-size="8.80" stroke="#111" stroke-width="0.25">0.0</text>
<line x1="71.30" y1="377.60" x2="71.30" y2="383.60" stroke="#2a2a2a" stroke-width="1.00"/>
<text transform="translate(71.70,396.90) scale(1.0000,1.0650)" text-anchor="middle" class="s" font-size="8.80" stroke="#111" stroke-width="0.25">0.2</text>
<line x1="92.70" y1="377.60" x2="92.70" y2="383.60" stroke="#2a2a2a" stroke-width="1.00"/>
<text transform="translate(93.10,396.90) scale(1.0000,1.0650)" text-anchor="middle" class="s" font-size="8.80" stroke="#111" stroke-width="0.25">0.4</text>
<line x1="114.10" y1="377.60" x2="114.10" y2="383.60" stroke="#2a2a2a" stroke-width="1.00"/>
<text transform="translate(114.50,396.90) scale(1.0000,1.0650)" text-anchor="middle" class="s" font-size="8.80" stroke="#111" stroke-width="0.25">0.6</text>
<line x1="135.50" y1="377.60" x2="135.50" y2="383.60" stroke="#2a2a2a" stroke-width="1.00"/>
<text transform="translate(135.90,396.90) scale(1.0000,1.0650)" text-anchor="middle" class="s" font-size="8.80" stroke="#111" stroke-width="0.25">0.8</text>
<line x1="156.90" y1="377.60" x2="156.90" y2="383.60" stroke="#2a2a2a" stroke-width="1.00"/>
<text transform="translate(157.30,396.90) scale(1.0000,1.0650)" text-anchor="middle" class="s" font-size="8.80" stroke="#111" stroke-width="0.25">1.0</text>
<line x1="38.30" y1="375.50" x2="43.70" y2="375.50" stroke="#2a2a2a" stroke-width="1.00"/>
<line x1="38.30" y1="364.55" x2="43.70" y2="364.55" stroke="#2a2a2a" stroke-width="1.00"/>
<line x1="38.30" y1="353.60" x2="43.70" y2="353.60" stroke="#2a2a2a" stroke-width="1.00"/>
<line x1="38.30" y1="342.65" x2="43.70" y2="342.65" stroke="#2a2a2a" stroke-width="1.00"/>
<line x1="38.30" y1="331.70" x2="43.70" y2="331.70" stroke="#2a2a2a" stroke-width="1.00"/>
<line x1="38.30" y1="320.75" x2="43.70" y2="320.75" stroke="#2a2a2a" stroke-width="1.00"/>
<text transform="translate(30.90,375.80) rotate(-90)" text-anchor="middle" class="s" font-size="9.10" stroke="#111" stroke-width="0.25">0</text>
<text transform="translate(30.90,353.90) rotate(-90)" text-anchor="middle" class="s" font-size="9.10" stroke="#111" stroke-width="0.25">2</text>
<text transform="translate(30.90,332.00) rotate(-90)" text-anchor="middle" class="s" font-size="9.10" stroke="#111" stroke-width="0.25">4</text>
<text transform="translate(9.70,347.70) rotate(-90)" text-anchor="middle" class="s" font-size="9.00" stroke="#111" stroke-width="0.25">Density</text>
<text transform="translate(2.00,311.25) scale(1.0000,1.0650)" class="r" font-size="18.40" stroke="#111" stroke-width="0.25">G</text>
<text transform="translate(105.00,303.60) scale(1.0000,1.0650)" text-anchor="middle" class="r" font-size="10.60" stroke="#111" stroke-width="0.30">N_shelf</text>
<text transform="translate(30.65,418.75) scale(1.0000,1.0650)" class="s" font-size="8.73" xml:space="preserve" stroke="#111" stroke-width="0.25">N = 4620984   Bandwidth = 0.005765</text>
<path d="M48.22,375.27 48.85,375.23 49.45,375.18 50.09,375.14 50.74,375.09 51.38,375.02 52.01,374.90 52.62,374.69 53.18,374.39 53.72,374.03 54.23,373.64 54.75,373.25 55.28,372.87 55.82,372.51 56.37,372.17 56.93,371.85 57.52,371.59 58.13,371.41 58.76,371.33 59.40,371.34 60.05,371.41 60.69,371.50 61.33,371.60 61.98,371.69 62.62,371.79 63.26,371.88 63.90,371.98 64.55,372.09 65.19,372.20 65.83,372.30 66.47,372.41 67.11,372.52 67.75,372.62 68.39,372.72 69.04,372.81 69.68,372.89 70.33,372.97 70.97,373.03 71.62,373.10 72.27,373.15 72.92,373.20 73.57,373.24 74.22,373.27 74.86,373.30 75.51,373.33 76.16,373.35 76.81,373.36 77.46,373.37 78.11,373.38 78.76,373.39 79.41,373.39 80.06,373.39 80.71,373.38 81.36,373.37 82.01,373.36 82.66,373.35 83.31,373.33 83.96,373.31 84.61,373.29 85.26,373.26 85.91,373.24 86.56,373.20 87.21,373.17 87.86,373.13 88.51,373.08 89.15,373.03 89.80,372.98 90.45,372.92 91.10,372.86 91.74,372.79 92.39,372.72 93.03,372.64 93.68,372.56 94.32,372.47 94.97,372.38 95.61,372.28 96.25,372.18 96.89,372.07 97.53,371.96 98.17,371.84 98.81,371.71 99.45,371.59 100.08,371.45 100.72,371.32 101.35,371.17 101.98,371.03 102.62,370.87 103.25,370.71 103.88,370.55 104.50,370.38 105.13,370.21 105.76,370.04 106.38,369.86 107.01,369.69 107.63,369.51 108.26,369.32 108.88,369.14 109.51,368.96 110.13,368.78 110.75,368.60 111.38,368.42 112.00,368.24 112.63,368.05 113.25,367.87 113.87,367.67 114.49,367.47 115.10,367.25 115.71,367.03 116.31,366.79 116.92,366.55 117.52,366.30 118.11,366.03 118.70,365.75 119.28,365.46 119.85,365.16 120.42,364.84 120.97,364.50 121.51,364.14 122.04,363.76 122.56,363.37 123.06,362.96 123.56,362.54 124.04,362.11 124.52,361.67 124.99,361.22 125.44,360.76 125.89,360.29 126.33,359.81 126.77,359.32 127.19,358.83 127.60,358.33 128.01,357.82 128.40,357.30 128.78,356.78 129.16,356.25 129.52,355.71 129.88,355.17 130.23,354.62 130.57,354.06 130.90,353.51 131.22,352.94 131.54,352.37 131.85,351.80 132.15,351.22 132.43,350.64 132.71,350.05 132.98,349.46 133.24,348.87 133.50,348.27 133.75,347.67 133.99,347.07 134.22,346.46 134.45,345.85 134.68,345.24 134.90,344.63 135.12,344.02 135.33,343.40 135.53,342.79 135.73,342.17 135.92,341.55 136.10,340.92 136.27,340.30 136.44,339.67 136.61,339.04 136.78,338.41 136.95,337.79 137.12,337.16 137.29,336.53 137.46,335.90 137.64,335.28 137.81,334.65 137.99,334.03 138.17,333.40 138.35,332.78 138.53,332.15 138.70,331.53 138.88,330.90 139.06,330.28 139.24,329.65 139.42,329.03 139.61,328.41 139.79,327.78 139.98,327.16 140.16,326.53 140.33,325.91 140.50,325.28 140.66,324.65 140.82,324.02 140.99,323.39 141.18,322.77 141.38,322.16 141.61,321.55 141.89,320.97 142.22,320.42 142.62,319.92 143.08,319.52 143.64,319.29 144.25,319.37 144.76,319.73 145.16,320.22 145.49,320.77 145.76,321.35 145.98,321.96 146.15,322.58 146.29,323.22 146.40,323.86 146.50,324.50 146.59,325.14 146.67,325.79 146.74,326.43 146.81,327.08 146.89,327.73 146.96,328.37 147.04,329.02 147.12,329.66 147.21,330.31 147.29,330.95 147.37,331.60 147.44,332.24 147.52,332.89 147.59,333.53 147.66,334.18 147.73,334.82 147.80,335.47 147.87,336.12 147.94,336.76 148.01,337.41 148.07,338.06 148.14,338.70 148.21,339.35 148.28,340.00 148.34,340.64 148.41,341.29 148.49,341.93 148.56,342.58 148.64,343.23 148.71,343.87 148.79,344.52 148.86,345.16 148.94,345.81 149.02,346.45 149.09,347.10 149.17,347.74 149.25,348.39 149.33,349.04 149.40,349.68 149.48,350.33 149.56,350.97 149.64,351.62 149.72,352.26 149.81,352.91 149.89,353.55 149.97,354.19 150.06,354.84 150.15,355.48 150.23,356.13 150.32,356.77 150.42,357.41 150.51,358.06 150.60,358.70 150.69,359.34 150.78,359.99 150.87,360.63 150.96,361.28 151.05,361.92 151.14,362.56 151.24,363.21 151.34,363.85 151.44,364.49 151.54,365.13 151.65,365.77 151.77,366.41 151.90,367.05 152.04,367.68 152.19,368.32 152.35,368.95 152.52,369.57 152.69,370.20 152.87,370.82 153.07,371.44 153.29,372.05 153.56,372.64 153.89,373.18 154.30,373.66 154.79,374.04 155.36,374.32 155.97,374.52 156.60,374.68 157.23,374.82 157.81,374.93 158.39,375.04" fill="none" stroke="#333" stroke-width="1.10" stroke-linejoin="round"/>
<line x1="211.90" y1="376.75" x2="332.40" y2="376.75" stroke="#ccc" stroke-width="0.60"/>
<rect x="211.90" y="317.20" width="120.50" height="61.80" fill="none" stroke="#2a2a2a" stroke-width="1.10"/>
<line x1="219.30" y1="379.00" x2="219.30" y2="385.00" stroke="#2a2a2a" stroke-width="1.00"/>
<text transform="translate(219.70,398.15) scale(1.0000,1.0650)" text-anchor="middle" class="s" font-size="8.80" stroke="#111" stroke-width="0.25">0.0</text>
<line x1="240.30" y1="379.00" x2="240.30" y2="385.00" stroke="#2a2a2a" stroke-width="1.00"/>
<text transform="translate(240.70,398.15) scale(1.0000,1.0650)" text-anchor="middle" class="s" font-size="8.80" stroke="#111" stroke-width="0.25">0.2</text>
<line x1="261.30" y1="379.00" x2="261.30" y2="385.00" stroke="#2a2a2a" stroke-width="1.00"/>
<text transform="translate(261.70,398.15) scale(1.0000,1.0650)" text-anchor="middle" class="s" font-size="8.80" stroke="#111" stroke-width="0.25">0.4</text>
<line x1="282.30" y1="379.00" x2="282.30" y2="385.00" stroke="#2a2a2a" stroke-width="1.00"/>
<text transform="translate(282.70,398.15) scale(1.0000,1.0650)" text-anchor="middle" class="s" font-size="8.80" stroke="#111" stroke-width="0.25">0.6</text>
<line x1="303.30" y1="379.00" x2="303.30" y2="385.00" stroke="#2a2a2a" stroke-width="1.00"/>
<text transform="translate(303.70,398.15) scale(1.0000,1.0650)" text-anchor="middle" class="s" font-size="8.80" stroke="#111" stroke-width="0.25">0.8</text>
<line x1="324.30" y1="379.00" x2="324.30" y2="385.00" stroke="#2a2a2a" stroke-width="1.00"/>
<text transform="translate(324.70,398.15) scale(1.0000,1.0650)" text-anchor="middle" class="s" font-size="8.80" stroke="#111" stroke-width="0.25">1.0</text>
<line x1="206.50" y1="376.75" x2="211.90" y2="376.75" stroke="#2a2a2a" stroke-width="1.00"/>
<line x1="206.50" y1="366.25" x2="211.90" y2="366.25" stroke="#2a2a2a" stroke-width="1.00"/>
<line x1="206.50" y1="355.75" x2="211.90" y2="355.75" stroke="#2a2a2a" stroke-width="1.00"/>
<line x1="206.50" y1="345.25" x2="211.90" y2="345.25" stroke="#2a2a2a" stroke-width="1.00"/>
<line x1="206.50" y1="334.75" x2="211.90" y2="334.75" stroke="#2a2a2a" stroke-width="1.00"/>
<line x1="206.50" y1="324.25" x2="211.90" y2="324.25" stroke="#2a2a2a" stroke-width="1.00"/>
<text transform="translate(198.90,377.05) rotate(-90)" text-anchor="middle" class="s" font-size="9.10" stroke="#111" stroke-width="0.25">0.0</text>
<text transform="translate(198.90,356.05) rotate(-90)" text-anchor="middle" class="s" font-size="9.10" stroke="#111" stroke-width="0.25">1.0</text>
<text transform="translate(198.90,335.05) rotate(-90)" text-anchor="middle" class="s" font-size="9.10" stroke="#111" stroke-width="0.25">2.0</text>
<text transform="translate(179.50,311.25) scale(1.0000,1.0650)" class="r" font-size="18.40" stroke="#111" stroke-width="0.25">H</text>
<text transform="translate(278.60,303.80) scale(1.0000,1.0650)" text-anchor="middle" class="r" font-size="10.60" stroke="#111" stroke-width="0.30">N_shore</text>
<text transform="translate(200.65,420.00) scale(1.0000,1.0650)" class="s" font-size="8.94" xml:space="preserve" stroke="#111" stroke-width="0.25">N = 11693820   Bandwidth = 0.0113</text>
<path d="M216.30,375.47 216.90,375.28 217.53,375.13 218.16,375.04 218.78,374.94 219.34,374.74 219.84,374.34 220.19,373.83 220.45,373.25 220.65,372.64 220.83,372.01 221.00,371.39 221.16,370.76 221.30,370.12 221.43,369.49 221.55,368.85 221.66,368.21 221.76,367.56 221.85,366.92 221.93,366.28 222.01,365.63 222.09,364.99 222.16,364.34 222.24,363.70 222.32,363.05 222.40,362.40 222.48,361.76 222.56,361.12 222.65,360.47 222.73,359.83 222.81,359.18 222.89,358.54 222.97,357.89 223.05,357.25 223.13,356.60 223.20,355.96 223.28,355.31 223.35,354.66 223.43,354.02 223.50,353.37 223.57,352.73 223.64,352.08 223.71,351.43 223.78,350.79 223.85,350.14 223.92,349.49 223.99,348.85 224.05,348.20 224.11,347.55 224.17,346.91 224.23,346.26 224.29,345.61 224.35,344.97 224.41,344.32 224.46,343.67 224.52,343.02 224.57,342.37 224.63,341.73 224.69,341.08 224.75,340.43 224.81,339.79 224.87,339.14 224.93,338.49 224.99,337.84 225.05,337.20 225.11,336.55 225.17,335.90 225.22,335.25 225.27,334.61 225.32,333.96 225.37,333.31 225.42,332.66 225.48,332.01 225.54,331.37 225.60,330.72 225.68,330.08 225.77,329.43 225.87,328.79 225.98,328.15 226.12,327.51 226.27,326.88 226.43,326.26 226.61,325.63 226.80,325.01 227.01,324.39 227.24,323.79 227.51,323.22 227.87,322.72 228.43,322.53 228.90,322.88 229.22,323.39 229.49,323.97 229.72,324.57 229.95,325.19 230.15,325.80 230.34,326.42 230.51,327.05 230.67,327.68 230.81,328.31 230.95,328.95 231.08,329.59 231.21,330.22 231.33,330.86 231.47,331.50 231.60,332.13 231.75,332.77 231.90,333.40 232.05,334.03 232.20,334.66 232.36,335.29 232.51,335.92 232.67,336.56 232.82,337.19 232.97,337.82 233.13,338.45 233.29,339.08 233.45,339.71 233.61,340.34 233.77,340.97 233.94,341.60 234.10,342.23 234.27,342.86 234.43,343.48 234.60,344.11 234.76,344.74 234.93,345.37 235.10,346.00 235.28,346.62 235.47,347.24 235.67,347.86 235.89,348.47 236.12,349.08 236.36,349.68 236.62,350.28 236.89,350.87 237.17,351.46 237.46,352.04 237.76,352.61 238.09,353.18 238.42,353.73 238.78,354.28 239.14,354.81 239.53,355.34 239.92,355.85 240.34,356.35 240.76,356.84 241.19,357.33 241.64,357.80 242.10,358.26 242.56,358.72 243.03,359.16 243.52,359.60 244.01,360.03 244.50,360.44 245.01,360.85 245.53,361.24 246.06,361.62 246.60,361.98 247.15,362.32 247.72,362.64 248.29,362.94 248.88,363.22 249.47,363.49 250.07,363.74 250.68,363.97 251.29,364.19 251.91,364.39 252.53,364.58 253.15,364.76 253.78,364.93 254.41,365.08 255.04,365.23 255.68,365.36 256.32,365.48 256.96,365.59 257.60,365.69 258.24,365.78 258.89,365.87 259.53,365.95 260.18,366.02 260.83,366.08 261.47,366.15 262.12,366.20 262.77,366.25 263.42,366.30 264.07,366.35 264.71,366.39 265.36,366.42 266.01,366.45 266.66,366.48 267.31,366.50 267.96,366.52 268.61,366.54 269.26,366.54 269.91,366.55 270.56,366.55 271.21,366.54 271.86,366.53 272.51,366.52 273.16,366.49 273.81,366.47 274.46,366.44 275.11,366.40 275.76,366.35 276.40,366.30 277.05,366.24 277.70,366.18 278.34,366.10 278.99,366.02 279.63,365.93 280.27,365.84 280.92,365.73 281.56,365.62 282.19,365.49 282.83,365.36 283.46,365.21 284.09,365.05 284.72,364.88 285.34,364.70 285.96,364.51 286.58,364.30 287.19,364.08 287.80,363.85 288.40,363.60 288.99,363.34 289.58,363.06 290.16,362.76 290.73,362.45 291.28,362.12 291.83,361.76 292.36,361.40 292.89,361.01 293.40,360.61 293.90,360.20 294.39,359.78 294.87,359.34 295.34,358.89 295.80,358.42 296.24,357.95 296.68,357.47 297.09,356.97 297.50,356.46 297.89,355.94 298.26,355.41 298.62,354.87 298.97,354.32 299.31,353.77 299.64,353.21 299.97,352.65 300.28,352.08 300.59,351.50 300.89,350.93 301.18,350.35 301.46,349.76 301.73,349.17 302.00,348.58 302.26,347.98 302.51,347.38 302.75,346.78 302.99,346.18 303.23,345.57 303.46,344.96 303.69,344.35 303.91,343.74 304.12,343.13 304.33,342.51 304.53,341.90 304.73,341.28 304.92,340.65 305.10,340.03 305.28,339.40 305.45,338.78 305.62,338.15 305.78,337.52 305.95,336.89 306.11,336.26 306.26,335.63 306.41,335.00 306.55,334.37 306.70,333.73 306.84,333.10 306.98,332.46 307.13,331.83 307.28,331.20 307.43,330.57 307.59,329.94 307.75,329.30 307.91,328.67 308.06,328.04 308.22,327.41 308.38,326.78 308.55,326.16 308.73,325.53 308.91,324.91 309.11,324.29 309.32,323.67 309.54,323.06 309.78,322.46 310.03,321.86 310.30,321.27 310.59,320.69 310.93,320.18 311.41,319.80 312.02,319.84 312.49,320.22 312.86,320.72 313.17,321.28 313.43,321.88 313.65,322.48 313.83,323.11 313.98,323.74 314.10,324.38 314.20,325.02 314.30,325.66 314.39,326.30 314.47,326.95 314.55,327.59 314.63,328.24 314.72,328.88 314.81,329.53 314.89,330.17 314.98,330.82 315.06,331.46 315.14,332.11 315.22,332.75 315.29,333.40 315.37,334.04 315.44,334.69 315.51,335.33 315.58,335.98 315.65,336.63 315.72,337.27 315.78,337.92 315.85,338.57 315.92,339.21 315.98,339.86 316.05,340.51 316.12,341.15 316.18,341.80 316.25,342.45 316.32,343.09 316.39,343.74 316.46,344.38 316.53,345.03 316.60,345.68 316.67,346.32 316.74,346.97 316.80,347.62 316.87,348.26 316.93,348.91 317.00,349.56 317.07,350.20 317.14,350.85 317.20,351.50 317.27,352.14 317.34,352.79 317.41,353.43 317.48,354.08 317.55,354.73 317.62,355.37 317.70,356.02 317.78,356.66 317.85,357.31 317.94,357.95 318.02,358.60 318.11,359.24 318.19,359.89 318.28,360.53 318.36,361.18 318.45,361.82 318.53,362.46 318.62,363.11 318.70,363.75 318.79,364.40 318.88,365.04 318.98,365.68 319.09,366.32 319.20,366.96 319.32,367.60 319.46,368.24 319.61,368.87 319.77,369.50 319.95,370.12 320.14,370.75 320.34,371.36 320.55,371.98 320.79,372.58 321.05,373.18 321.35,373.75 321.71,374.28 322.13,374.75 322.64,375.13 323.20,375.43 323.80,375.65 324.43,375.83 325.06,375.97 325.70,376.09 326.32,376.19 326.93,376.26 327.31,376.31" fill="none" stroke="#333" stroke-width="1.10" stroke-linejoin="round"/>
<line x1="380.50" y1="375.50" x2="500.60" y2="375.50" stroke="#ccc" stroke-width="0.60"/>
<rect x="380.50" y="315.70" width="120.10" height="62.40" fill="none" stroke="#2a2a2a" stroke-width="1.10"/>
<line x1="386.20" y1="378.10" x2="386.20" y2="384.10" stroke="#2a2a2a" stroke-width="1.00"/>
<text transform="translate(386.60,396.90) scale(1.0000,1.0650)" text-anchor="middle" class="s" font-size="8.80" stroke="#111" stroke-width="0.25">0.0</text>
<line x1="408.02" y1="378.10" x2="408.02" y2="384.10" stroke="#2a2a2a" stroke-width="1.00"/>
<text transform="translate(408.42,396.90) scale(1.0000,1.0650)" text-anchor="middle" class="s" font-size="8.80" stroke="#111" stroke-width="0.25">0.2</text>
<line x1="429.84" y1="378.10" x2="429.84" y2="384.10" stroke="#2a2a2a" stroke-width="1.00"/>
<text transform="translate(430.24,396.90) scale(1.0000,1.0650)" text-anchor="middle" class="s" font-size="8.80" stroke="#111" stroke-width="0.25">0.4</text>
<line x1="451.66" y1="378.10" x2="451.66" y2="384.10" stroke="#2a2a2a" stroke-width="1.00"/>
<text transform="translate(452.06,396.90) scale(1.0000,1.0650)" text-anchor="middle" class="s" font-size="8.80" stroke="#111" stroke-width="0.25">0.6</text>
<line x1="473.48" y1="378.10" x2="473.48" y2="384.10" stroke="#2a2a2a" stroke-width="1.00"/>
<text transform="translate(473.88,396.90) scale(1.0000,1.0650)" text-anchor="middle" class="s" font-size="8.80" stroke="#111" stroke-width="0.25">0.8</text>
<line x1="495.30" y1="378.10" x2="495.30" y2="384.10" stroke="#2a2a2a" stroke-width="1.00"/>
<text transform="translate(495.70,396.90) scale(1.0000,1.0650)" text-anchor="middle" class="s" font-size="8.80" stroke="#111" stroke-width="0.25">1.0</text>
<line x1="375.10" y1="375.50" x2="380.50" y2="375.50" stroke="#2a2a2a" stroke-width="1.00"/>
<line x1="375.10" y1="364.40" x2="380.50" y2="364.40" stroke="#2a2a2a" stroke-width="1.00"/>
<line x1="375.10" y1="353.30" x2="380.50" y2="353.30" stroke="#2a2a2a" stroke-width="1.00"/>
<line x1="375.10" y1="342.20" x2="380.50" y2="342.20" stroke="#2a2a2a" stroke-width="1.00"/>
<line x1="375.10" y1="331.10" x2="380.50" y2="331.10" stroke="#2a2a2a" stroke-width="1.00"/>
<line x1="375.10" y1="320.00" x2="380.50" y2="320.00" stroke="#2a2a2a" stroke-width="1.00"/>
<text transform="translate(367.90,375.80) rotate(-90)" text-anchor="middle" class="s" font-size="9.10" stroke="#111" stroke-width="0.25">0</text>
<text transform="translate(367.90,353.60) rotate(-90)" text-anchor="middle" class="s" font-size="9.10" stroke="#111" stroke-width="0.25">2</text>
<text transform="translate(367.90,331.40) rotate(-90)" text-anchor="middle" class="s" font-size="9.10" stroke="#111" stroke-width="0.25">4</text>
<text transform="translate(357.50,309.50) scale(1.0000,1.0650)" class="r" font-size="18.40" stroke="#111" stroke-width="0.25">I</text>
<text transform="translate(448.75,305.00) scale(1.0000,1.0650)" text-anchor="middle" class="r" font-size="10.60" stroke="#111" stroke-width="0.30">S_shelf</text>
<text transform="translate(366.40,419.25) scale(1.0000,1.0650)" class="s" font-size="8.94" xml:space="preserve" stroke="#111" stroke-width="0.25">N = 4147800   Bandwidth = 0.005737</text>
<path d="M385.22,375.29 385.85,375.23 386.45,375.18 387.09,375.11 387.73,375.03 388.36,374.89 388.96,374.67 389.54,374.39 390.09,374.05 390.64,373.70 391.18,373.35 391.74,373.02 392.31,372.71 392.88,372.40 393.47,372.13 394.07,371.91 394.70,371.78 395.33,371.76 395.97,371.83 396.60,371.96 397.23,372.11 397.86,372.26 398.50,372.39 399.14,372.51 399.78,372.61 400.42,372.71 401.07,372.80 401.71,372.89 402.35,372.97 403.00,373.05 403.65,373.12 404.29,373.19 404.94,373.24 405.59,373.30 406.24,373.34 406.88,373.38 407.53,373.41 408.18,373.44 408.83,373.47 409.48,373.49 410.13,373.50 410.78,373.52 411.43,373.52 412.08,373.53 412.73,373.53 413.38,373.53 414.03,373.52 414.68,373.52 415.33,373.51 415.98,373.49 416.63,373.48 417.28,373.46 417.93,373.44 418.58,373.42 419.23,373.39 419.88,373.36 420.53,373.33 421.18,373.29 421.83,373.26 422.47,373.21 423.12,373.17 423.77,373.12 424.42,373.07 425.07,373.02 425.71,372.96 426.36,372.90 427.01,372.83 427.65,372.77 428.30,372.69 428.95,372.62 429.59,372.54 430.24,372.46 430.88,372.37 431.52,372.28 432.17,372.19 432.81,372.09 433.45,371.99 434.09,371.88 434.73,371.77 435.37,371.66 436.01,371.54 436.65,371.42 437.29,371.29 437.93,371.16 438.56,371.03 439.20,370.88 439.83,370.74 440.46,370.59 441.09,370.43 441.72,370.27 442.35,370.11 442.98,369.94 443.61,369.77 444.23,369.59 444.86,369.42 445.48,369.24 446.11,369.06 446.73,368.88 447.36,368.70 447.98,368.52 448.60,368.33 449.23,368.15 449.85,367.96 450.47,367.77 451.09,367.57 451.71,367.37 452.32,367.16 452.93,366.94 453.54,366.71 454.15,366.47 454.75,366.23 455.35,365.98 455.94,365.71 456.53,365.44 457.12,365.16 457.69,364.85 458.26,364.53 458.81,364.19 459.34,363.83 459.86,363.44 460.37,363.03 460.86,362.60 461.33,362.16 461.79,361.70 462.25,361.24 462.69,360.76 463.13,360.28 463.56,359.79 463.98,359.30 464.40,358.80 464.81,358.30 465.22,357.79 465.62,357.28 466.02,356.77 466.41,356.25 466.79,355.72 467.16,355.19 467.53,354.66 467.89,354.11 468.24,353.57 468.59,353.02 468.92,352.46 469.25,351.90 469.56,351.33 469.87,350.76 470.17,350.18 470.46,349.60 470.73,349.01 471.00,348.42 471.26,347.82 471.51,347.22 471.75,346.62 471.99,346.01 472.23,345.41 472.46,344.80 472.68,344.19 472.91,343.58 473.13,342.97 473.35,342.36 473.57,341.75 473.78,341.13 473.98,340.51 474.18,339.90 474.38,339.28 474.57,338.65 474.76,338.03 474.95,337.41 475.14,336.79 475.32,336.17 475.51,335.54 475.69,334.92 475.87,334.30 476.06,333.67 476.24,333.05 476.43,332.42 476.61,331.80 476.78,331.18 476.96,330.55 477.13,329.92 477.31,329.30 477.48,328.67 477.66,328.05 477.84,327.42 478.02,326.80 478.20,326.17 478.39,325.55 478.59,324.93 478.78,324.31 478.98,323.69 479.17,323.07 479.36,322.45 479.57,321.83 479.79,321.22 480.04,320.63 480.33,320.05 480.67,319.50 481.06,318.99 481.51,318.58 482.05,318.32 482.64,318.38 483.13,318.74 483.49,319.24 483.79,319.81 484.05,320.40 484.28,321.01 484.46,321.63 484.62,322.26 484.75,322.90 484.86,323.54 484.95,324.18 485.04,324.82 485.11,325.47 485.18,326.12 485.25,326.76 485.32,327.41 485.38,328.06 485.45,328.70 485.52,329.35 485.59,329.99 485.67,330.64 485.75,331.29 485.83,331.93 485.91,332.58 485.99,333.22 486.07,333.87 486.15,334.51 486.22,335.16 486.30,335.80 486.37,336.45 486.45,337.09 486.52,337.74 486.59,338.39 486.67,339.03 486.74,339.68 486.81,340.32 486.89,340.97 486.96,341.61 487.03,342.26 487.11,342.91 487.18,343.55 487.25,344.20 487.33,344.84 487.40,345.49 487.48,346.13 487.56,346.78 487.64,347.43 487.71,348.07 487.79,348.72 487.86,349.36 487.94,350.01 488.01,350.65 488.09,351.30 488.16,351.94 488.24,352.59 488.32,353.24 488.40,353.88 488.48,354.53 488.56,355.17 488.64,355.82 488.72,356.46 488.80,357.10 488.89,357.75 488.98,358.39 489.07,359.04 489.16,359.68 489.26,360.32 489.36,360.97 489.45,361.61 489.55,362.25 489.64,362.89 489.73,363.54 489.83,364.18 489.93,364.82 490.03,365.47 490.14,366.11 490.25,366.75 490.38,367.38 490.52,368.02 490.68,368.65 490.85,369.27 491.05,369.89 491.28,370.50 491.52,371.10 491.79,371.69 492.09,372.26 492.45,372.80 492.87,373.27 493.37,373.64 493.94,373.90 494.56,374.08 495.18,374.21 495.78,374.35 496.38,374.50 496.48,374.53" fill="none" stroke="#333" stroke-width="1.10" stroke-linejoin="round"/>
<line x1="45.10" y1="525.75" x2="165.00" y2="525.75" stroke="#ccc" stroke-width="0.60"/>
<rect x="45.10" y="466.40" width="119.90" height="61.80" fill="none" stroke="#2a2a2a" stroke-width="1.10"/>
<line x1="52.90" y1="528.20" x2="52.90" y2="534.20" stroke="#2a2a2a" stroke-width="1.00"/>
<text transform="translate(53.30,547.35) scale(1.0000,1.0650)" text-anchor="middle" class="s" font-size="8.80" stroke="#111" stroke-width="0.25">0.0</text>
<line x1="73.72" y1="528.20" x2="73.72" y2="534.20" stroke="#2a2a2a" stroke-width="1.00"/>
<text transform="translate(74.12,547.35) scale(1.0000,1.0650)" text-anchor="middle" class="s" font-size="8.80" stroke="#111" stroke-width="0.25">0.2</text>
<line x1="94.54" y1="528.20" x2="94.54" y2="534.20" stroke="#2a2a2a" stroke-width="1.00"/>
<text transform="translate(94.94,547.35) scale(1.0000,1.0650)" text-anchor="middle" class="s" font-size="8.80" stroke="#111" stroke-width="0.25">0.4</text>
<line x1="115.36" y1="528.20" x2="115.36" y2="534.20" stroke="#2a2a2a" stroke-width="1.00"/>
<text transform="translate(115.76,547.35) scale(1.0000,1.0650)" text-anchor="middle" class="s" font-size="8.80" stroke="#111" stroke-width="0.25">0.6</text>
<line x1="136.18" y1="528.20" x2="136.18" y2="534.20" stroke="#2a2a2a" stroke-width="1.00"/>
<text transform="translate(136.58,547.35) scale(1.0000,1.0650)" text-anchor="middle" class="s" font-size="8.80" stroke="#111" stroke-width="0.25">0.8</text>
<line x1="157.00" y1="528.20" x2="157.00" y2="534.20" stroke="#2a2a2a" stroke-width="1.00"/>
<text transform="translate(157.40,547.35) scale(1.0000,1.0650)" text-anchor="middle" class="s" font-size="8.80" stroke="#111" stroke-width="0.25">1.0</text>
<line x1="39.70" y1="525.75" x2="45.10" y2="525.75" stroke="#2a2a2a" stroke-width="1.00"/>
<line x1="39.70" y1="515.50" x2="45.10" y2="515.50" stroke="#2a2a2a" stroke-width="1.00"/>
<line x1="39.70" y1="505.25" x2="45.10" y2="505.25" stroke="#2a2a2a" stroke-width="1.00"/>
<line x1="39.70" y1="495.00" x2="45.10" y2="495.00" stroke="#2a2a2a" stroke-width="1.00"/>
<line x1="39.70" y1="484.75" x2="45.10" y2="484.75" stroke="#2a2a2a" stroke-width="1.00"/>
<line x1="39.70" y1="474.50" x2="45.10" y2="474.50" stroke="#2a2a2a" stroke-width="1.00"/>
<text transform="translate(31.90,526.05) rotate(-90)" text-anchor="middle" class="s" font-size="9.10" stroke="#111" stroke-width="0.25">0.0</text>
<text transform="translate(31.90,505.55) rotate(-90)" text-anchor="middle" class="s" font-size="9.10" stroke="#111" stroke-width="0.25">1.0</text>
<text transform="translate(31.90,485.05) rotate(-90)" text-anchor="middle" class="s" font-size="9.10" stroke="#111" stroke-width="0.25">2.0</text>
<text transform="translate(10.40,497.90) rotate(-90)" text-anchor="middle" class="s" font-size="9.00" stroke="#111" stroke-width="0.25">Density</text>
<text transform="translate(5.75,464.00) scale(1.0000,1.0650)" class="r" font-size="18.40" stroke="#111" stroke-width="0.25">J</text>
<text transform="translate(105.25,455.00) scale(1.0000,1.0650)" text-anchor="middle" class="r" font-size="10.60" stroke="#111" stroke-width="0.30">S_shore</text>
<text transform="translate(33.90,569.00) scale(1.0000,1.0650)" class="s" font-size="8.83" xml:space="preserve" stroke="#111" stroke-width="0.25">N = 9150642   Bandwidth = 0.01193</text>
<path d="M49.30,524.47 49.90,524.28 50.53,524.13 51.16,524.04 51.78,523.94 52.34,523.74 52.84,523.34 53.19,522.83 53.45,522.25 53.65,521.64 53.83,521.01 54.00,520.39 54.16,519.76 54.30,519.12 54.43,518.49 54.55,517.85 54.66,517.21 54.76,516.56 54.85,515.92 54.93,515.28 55.01,514.63 55.09,513.99 55.16,513.34 55.24,512.69 55.32,512.05 55.40,511.40 55.48,510.76 55.56,510.11 55.65,509.47 55.73,508.83 55.81,508.18 55.89,507.54 55.97,506.89 56.05,506.24 56.13,505.60 56.20,504.95 56.28,504.31 56.35,503.66 56.43,503.02 56.50,502.37 56.57,501.73 56.64,501.08 56.71,500.43 56.78,499.79 56.85,499.14 56.92,498.49 56.99,497.85 57.05,497.20 57.11,496.55 57.17,495.91 57.23,495.26 57.29,494.61 57.35,493.96 57.41,493.32 57.46,492.67 57.52,492.02 57.57,491.37 57.63,490.73 57.69,490.08 57.75,489.43 57.81,488.78 57.87,488.14 57.93,487.49 58.00,486.84 58.06,486.20 58.13,485.55 58.19,484.90 58.25,484.26 58.32,483.61 58.38,482.96 58.45,482.32 58.51,481.67 58.58,481.02 58.65,480.38 58.73,479.73 58.80,479.09 58.88,478.44 58.96,477.80 59.05,477.15 59.14,476.51 59.23,475.86 59.33,475.22 59.42,474.58 59.52,473.94 59.62,473.29 59.73,472.65 59.86,472.02 60.01,471.39 60.19,470.77 60.43,470.17 60.72,469.61 61.13,469.15 61.70,468.99 62.23,469.32 62.58,469.81 62.88,470.37 63.14,470.97 63.37,471.57 63.58,472.19 63.75,472.82 63.90,473.45 64.03,474.08 64.15,474.72 64.26,475.36 64.37,476.00 64.48,476.64 64.58,477.29 64.68,477.93 64.79,478.57 64.89,479.21 65.01,479.85 65.12,480.49 65.25,481.13 65.37,481.77 65.50,482.40 65.62,483.04 65.75,483.68 65.87,484.32 66.00,484.96 66.12,485.59 66.25,486.23 66.38,486.87 66.52,487.50 66.66,488.14 66.80,488.77 66.95,489.40 67.11,490.03 67.27,490.66 67.44,491.29 67.60,491.92 67.77,492.55 67.94,493.18 68.11,493.80 68.29,494.43 68.48,495.05 68.67,495.67 68.86,496.29 69.06,496.91 69.27,497.52 69.50,498.13 69.73,498.74 69.98,499.34 70.23,499.94 70.49,500.54 70.76,501.13 71.04,501.71 71.32,502.30 71.61,502.88 71.91,503.46 72.22,504.03 72.54,504.60 72.87,505.15 73.21,505.71 73.57,506.25 73.94,506.78 74.32,507.31 74.73,507.82 75.15,508.31 75.59,508.79 76.04,509.25 76.51,509.70 76.99,510.14 77.49,510.56 77.99,510.96 78.51,511.36 79.04,511.73 79.59,512.09 80.15,512.41 80.72,512.71 81.32,512.97 81.93,513.18 82.55,513.37 83.17,513.56 83.79,513.74 84.41,513.94 85.03,514.14 85.65,514.33 86.27,514.52 86.90,514.71 87.52,514.89 88.15,515.06 88.78,515.21 89.41,515.36 90.05,515.49 90.69,515.60 91.33,515.71 91.97,515.80 92.62,515.89 93.26,515.96 93.91,516.02 94.56,516.07 95.21,516.11 95.86,516.14 96.51,516.16 97.15,516.17 97.80,516.18 98.45,516.17 99.10,516.16 99.75,516.14 100.40,516.11 101.05,516.07 101.70,516.03 102.35,515.98 103.00,515.92 103.64,515.86 104.29,515.79 104.94,515.72 105.58,515.65 106.23,515.57 106.87,515.48 107.51,515.39 108.16,515.30 108.80,515.20 109.44,515.10 110.08,515.00 110.72,514.89 111.37,514.77 112.00,514.66 112.64,514.54 113.28,514.41 113.92,514.28 114.55,514.14 115.19,514.00 115.82,513.85 116.45,513.70 117.08,513.53 117.71,513.37 118.33,513.19 118.96,513.00 119.58,512.81 120.19,512.60 120.80,512.39 121.41,512.15 122.01,511.90 122.60,511.64 123.19,511.36 123.77,511.06 124.33,510.74 124.89,510.41 125.44,510.06 125.98,509.70 126.50,509.31 127.01,508.91 127.50,508.48 127.98,508.04 128.44,507.58 128.88,507.11 129.31,506.62 129.72,506.12 130.12,505.61 130.50,505.08 130.87,504.55 131.24,504.01 131.59,503.47 131.94,502.92 132.29,502.37 132.63,501.82 132.97,501.26 133.31,500.71 133.63,500.14 133.95,499.58 134.27,499.01 134.57,498.44 134.87,497.86 135.15,497.27 135.43,496.68 135.69,496.09 135.95,495.50 136.20,494.90 136.44,494.29 136.68,493.69 136.91,493.08 137.13,492.47 137.34,491.85 137.54,491.24 137.74,490.62 137.93,489.99 138.11,489.37 138.28,488.74 138.46,488.12 138.64,487.49 138.82,486.87 139.02,486.25 139.21,485.63 139.42,485.01 139.62,484.40 139.81,483.78 140.00,483.15 140.18,482.53 140.35,481.90 140.52,481.27 140.68,480.64 140.84,480.02 141.01,479.39 141.17,478.76 141.34,478.13 141.52,477.51 141.72,476.89 141.92,476.27 142.15,475.66 142.39,475.06 142.63,474.45 142.89,473.86 143.16,473.27 143.47,472.71 143.87,472.22 144.42,471.96 144.98,472.17 145.41,472.64 145.74,473.18 146.03,473.75 146.29,474.35 146.51,474.96 146.70,475.58 146.87,476.21 147.00,476.84 147.12,477.48 147.23,478.12 147.33,478.76 147.43,479.40 147.52,480.05 147.61,480.69 147.70,481.33 147.79,481.98 147.88,482.62 147.97,483.27 148.05,483.91 148.13,484.56 148.21,485.20 148.28,485.85 148.35,486.49 148.41,487.14 148.48,487.79 148.54,488.43 148.60,489.08 148.67,489.73 148.73,490.38 148.79,491.02 148.85,491.67 148.91,492.32 148.98,492.96 149.04,493.61 149.11,494.26 149.18,494.90 149.25,495.55 149.32,496.20 149.39,496.84 149.46,497.49 149.53,498.13 149.60,498.78 149.67,499.43 149.74,500.07 149.80,500.72 149.87,501.37 149.94,502.01 150.02,502.66 150.09,503.30 150.16,503.95 150.24,504.59 150.32,505.24 150.40,505.88 150.48,506.53 150.56,507.17 150.65,507.82 150.74,508.46 150.82,509.11 150.91,509.75 150.99,510.40 151.08,511.04 151.16,511.68 151.25,512.33 151.34,512.97 151.43,513.62 151.52,514.26 151.62,514.90 151.73,515.54 151.85,516.18 151.97,516.82 152.11,517.45 152.26,518.09 152.43,518.71 152.61,519.34 152.81,519.96 153.01,520.57 153.23,521.18 153.47,521.79 153.75,522.37 154.07,522.93 154.45,523.45 154.90,523.89 155.43,524.24 156.01,524.51 156.62,524.71 157.25,524.87 157.88,525.02 158.52,525.13 159.15,525.22 159.76,525.29 160.18,525.34" fill="none" stroke="#333" stroke-width="1.10" stroke-linejoin="round"/>
<line x1="210.90" y1="524.00" x2="329.50" y2="524.00" stroke="#ccc" stroke-width="0.60"/>
<rect x="210.90" y="464.70" width="118.60" height="61.60" fill="none" stroke="#2a2a2a" stroke-width="1.10"/>
<line x1="218.30" y1="526.30" x2="218.30" y2="532.30" stroke="#2a2a2a" stroke-width="1.00"/>
<text transform="translate(218.70,545.40) scale(1.0000,1.0650)" text-anchor="middle" class="s" font-size="8.80" stroke="#111" stroke-width="0.25">0.0</text>
<line x1="239.26" y1="526.30" x2="239.26" y2="532.30" stroke="#2a2a2a" stroke-width="1.00"/>
<text transform="translate(239.66,545.40) scale(1.0000,1.0650)" text-anchor="middle" class="s" font-size="8.80" stroke="#111" stroke-width="0.25">0.2</text>
<line x1="260.22" y1="526.30" x2="260.22" y2="532.30" stroke="#2a2a2a" stroke-width="1.00"/>
<text transform="translate(260.62,545.40) scale(1.0000,1.0650)" text-anchor="middle" class="s" font-size="8.80" stroke="#111" stroke-width="0.25">0.4</text>
<line x1="281.18" y1="526.30" x2="281.18" y2="532.30" stroke="#2a2a2a" stroke-width="1.00"/>
<text transform="translate(281.58,545.40) scale(1.0000,1.0650)" text-anchor="middle" class="s" font-size="8.80" stroke="#111" stroke-width="0.25">0.6</text>
<line x1="302.14" y1="526.30" x2="302.14" y2="532.30" stroke="#2a2a2a" stroke-width="1.00"/>
<text transform="translate(302.54,545.40) scale(1.0000,1.0650)" text-anchor="middle" class="s" font-size="8.80" stroke="#111" stroke-width="0.25">0.8</text>
<line x1="323.10" y1="526.30" x2="323.10" y2="532.30" stroke="#2a2a2a" stroke-width="1.00"/>
<text transform="translate(323.50,545.40) scale(1.0000,1.0650)" text-anchor="middle" class="s" font-size="8.80" stroke="#111" stroke-width="0.25">1.0</text>
<line x1="205.50" y1="524.00" x2="210.90" y2="524.00" stroke="#2a2a2a" stroke-width="1.00"/>
<line x1="205.50" y1="509.00" x2="210.90" y2="509.00" stroke="#2a2a2a" stroke-width="1.00"/>
<line x1="205.50" y1="494.00" x2="210.90" y2="494.00" stroke="#2a2a2a" stroke-width="1.00"/>
<line x1="205.50" y1="479.00" x2="210.90" y2="479.00" stroke="#2a2a2a" stroke-width="1.00"/>
<text transform="translate(197.90,524.30) rotate(-90)" text-anchor="middle" class="s" font-size="9.10" stroke="#111" stroke-width="0.25">0</text>
<text transform="translate(197.90,509.30) rotate(-90)" text-anchor="middle" class="s" font-size="9.10" stroke="#111" stroke-width="0.25">1</text>
<text transform="translate(197.90,494.30) rotate(-90)" text-anchor="middle" class="s" font-size="9.10" stroke="#111" stroke-width="0.25">2</text>
<text transform="translate(197.90,479.30) rotate(-90)" text-anchor="middle" class="s" font-size="9.10" stroke="#111" stroke-width="0.25">3</text>
<text transform="translate(179.50,460.25) scale(1.0000,1.0650)" class="r" font-size="18.40" stroke="#111" stroke-width="0.25">K</text>
<text transform="translate(277.90,455.30) scale(1.0000,1.0650)" text-anchor="middle" class="r" font-size="10.60" stroke="#111" stroke-width="0.30">TSS1500</text>
<text transform="translate(196.90,567.00) scale(1.0000,1.0650)" class="s" font-size="8.81" xml:space="preserve" stroke="#111" stroke-width="0.25">N = 10452084   Bandwidth = 0.01164</text>
<path d="M215.30,523.08 215.89,522.87 216.47,522.69 217.06,522.48 217.61,522.19 218.07,521.78 218.43,521.26 218.70,520.69 218.92,520.08 219.11,519.46 219.28,518.83 219.45,518.20 219.60,517.57 219.75,516.94 219.89,516.30 220.01,515.66 220.12,515.03 220.23,514.38 220.33,513.74 220.42,513.10 220.51,512.45 220.60,511.81 220.68,511.17 220.76,510.52 220.84,509.88 220.92,509.23 221.00,508.59 221.08,507.94 221.15,507.29 221.22,506.65 221.29,506.00 221.35,505.35 221.41,504.71 221.47,504.06 221.52,503.41 221.58,502.76 221.63,502.12 221.68,501.47 221.74,500.82 221.79,500.17 221.85,499.53 221.90,498.88 221.96,498.23 222.02,497.58 222.08,496.94 222.14,496.29 222.20,495.64 222.27,495.00 222.33,494.35 222.39,493.70 222.46,493.05 222.52,492.41 222.58,491.76 222.65,491.11 222.71,490.47 222.78,489.82 222.84,489.17 222.91,488.53 222.98,487.88 223.04,487.23 223.11,486.59 223.18,485.94 223.25,485.30 223.32,484.65 223.38,484.00 223.45,483.36 223.52,482.71 223.58,482.06 223.65,481.42 223.72,480.77 223.78,480.12 223.85,479.48 223.92,478.83 223.99,478.18 224.06,477.54 224.14,476.89 224.21,476.25 224.30,475.60 224.38,474.96 224.47,474.31 224.56,473.67 224.65,473.03 224.73,472.38 224.82,471.74 224.92,471.10 225.04,470.46 225.18,469.82 225.36,469.21 225.61,468.62 225.92,468.11 226.41,467.74 226.94,468.01 227.23,468.55 227.43,469.15 227.60,469.77 227.77,470.40 227.93,471.03 228.08,471.66 228.23,472.30 228.36,472.93 228.48,473.57 228.60,474.21 228.72,474.85 228.83,475.49 228.94,476.13 229.05,476.77 229.17,477.41 229.28,478.05 229.40,478.69 229.52,479.33 229.64,479.97 229.77,480.60 229.89,481.24 230.01,481.88 230.13,482.52 230.25,483.16 230.38,483.80 230.50,484.43 230.62,485.07 230.75,485.71 230.87,486.35 231.00,486.99 231.12,487.62 231.25,488.26 231.37,488.90 231.49,489.54 231.62,490.18 231.75,490.81 231.88,491.45 232.01,492.09 232.15,492.72 232.29,493.36 232.44,493.99 232.58,494.62 232.73,495.26 232.88,495.89 233.04,496.52 233.20,497.15 233.36,497.78 233.54,498.40 233.72,499.03 233.91,499.65 234.11,500.27 234.31,500.88 234.52,501.50 234.74,502.11 234.97,502.72 235.21,503.32 235.46,503.92 235.73,504.52 236.01,505.10 236.30,505.68 236.60,506.26 236.91,506.83 237.23,507.39 237.57,507.94 237.93,508.49 238.30,509.02 238.69,509.54 239.10,510.05 239.52,510.54 239.95,511.02 240.40,511.49 240.87,511.94 241.35,512.38 241.85,512.80 242.36,513.19 242.90,513.56 243.44,513.91 244.00,514.24 244.57,514.55 245.15,514.85 245.74,515.12 246.34,515.37 246.94,515.61 247.56,515.83 248.17,516.02 248.80,516.20 249.43,516.37 250.06,516.52 250.70,516.65 251.33,516.78 251.97,516.89 252.61,517.00 253.26,517.10 253.90,517.18 254.55,517.26 255.19,517.33 255.84,517.39 256.49,517.45 257.13,517.49 257.78,517.53 258.43,517.55 259.08,517.57 259.73,517.58 260.38,517.58 261.03,517.57 261.68,517.56 262.33,517.54 262.98,517.51 263.63,517.48 264.28,517.45 264.93,517.41 265.58,517.38 266.23,517.34 266.87,517.30 267.52,517.25 268.17,517.21 268.82,517.17 269.47,517.12 270.12,517.07 270.76,517.01 271.41,516.96 272.06,516.89 272.71,516.83 273.35,516.76 274.00,516.68 274.64,516.60 275.29,516.52 275.93,516.43 276.57,516.34 277.22,516.24 277.86,516.14 278.50,516.03 279.14,515.93 279.78,515.81 280.42,515.70 281.06,515.57 281.70,515.44 282.33,515.31 282.97,515.17 283.60,515.03 284.23,514.88 284.86,514.72 285.49,514.56 286.12,514.38 286.74,514.20 287.36,514.01 287.98,513.81 288.60,513.61 289.21,513.39 289.82,513.16 290.42,512.92 291.02,512.67 291.61,512.40 292.20,512.12 292.78,511.82 293.35,511.51 293.91,511.19 294.46,510.84 295.00,510.48 295.53,510.11 296.05,509.71 296.56,509.31 297.05,508.89 297.54,508.46 298.02,508.02 298.49,507.57 298.95,507.11 299.40,506.64 299.83,506.16 300.26,505.67 300.68,505.17 301.09,504.67 301.49,504.16 301.89,503.65 302.28,503.12 302.66,502.60 303.03,502.07 303.40,501.53 303.77,500.99 304.13,500.45 304.48,499.91 304.83,499.36 305.17,498.80 305.50,498.25 305.85,497.70 306.20,497.15 306.56,496.61 306.93,496.07 307.30,495.54 307.68,495.02 308.09,494.53 308.55,494.16 309.16,493.98 309.74,494.12 310.23,494.47 310.66,494.93 311.05,495.45 311.39,495.99 311.69,496.57 311.94,497.17 312.14,497.78 312.32,498.40 312.47,499.04 312.60,499.67 312.74,500.31 312.88,500.94 313.02,501.58 313.16,502.21 313.29,502.85 313.42,503.48 313.55,504.12 313.67,504.76 313.79,505.40 313.91,506.04 314.03,506.68 314.15,507.32 314.27,507.95 314.40,508.59 314.52,509.23 314.64,509.87 314.77,510.51 314.89,511.14 315.01,511.78 315.14,512.42 315.27,513.06 315.40,513.69 315.54,514.33 315.69,514.96 315.85,515.59 316.01,516.22 316.18,516.85 316.35,517.48 316.53,518.10 316.72,518.72 316.93,519.34 317.17,519.94 317.44,520.52 317.76,521.08 318.13,521.62 318.55,522.10 319.02,522.53 319.56,522.87 320.15,523.11 320.77,523.27 321.41,523.36 322.05,523.44 322.70,523.52 323.34,523.60 323.97,523.68 324.61,523.75 325.11,523.79" fill="none" stroke="#333" stroke-width="1.10" stroke-linejoin="round"/>
<line x1="383.90" y1="522.75" x2="504.60" y2="522.75" stroke="#ccc" stroke-width="0.60"/>
<rect x="383.90" y="463.30" width="120.70" height="62.10" fill="none" stroke="#2a2a2a" stroke-width="1.10"/>
<line x1="389.50" y1="525.40" x2="389.50" y2="531.40" stroke="#2a2a2a" stroke-width="1.00"/>
<text transform="translate(389.90,544.95) scale(1.0000,1.0650)" text-anchor="middle" class="s" font-size="8.80" stroke="#111" stroke-width="0.25">0.0</text>
<line x1="411.48" y1="525.40" x2="411.48" y2="531.40" stroke="#2a2a2a" stroke-width="1.00"/>
<text transform="translate(411.88,544.95) scale(1.0000,1.0650)" text-anchor="middle" class="s" font-size="8.80" stroke="#111" stroke-width="0.25">0.2</text>
<line x1="433.46" y1="525.40" x2="433.46" y2="531.40" stroke="#2a2a2a" stroke-width="1.00"/>
<text transform="translate(433.86,544.95) scale(1.0000,1.0650)" text-anchor="middle" class="s" font-size="8.80" stroke="#111" stroke-width="0.25">0.4</text>
<line x1="455.44" y1="525.40" x2="455.44" y2="531.40" stroke="#2a2a2a" stroke-width="1.00"/>
<text transform="translate(455.84,544.95) scale(1.0000,1.0650)" text-anchor="middle" class="s" font-size="8.80" stroke="#111" stroke-width="0.25">0.6</text>
<line x1="477.42" y1="525.40" x2="477.42" y2="531.40" stroke="#2a2a2a" stroke-width="1.00"/>
<text transform="translate(477.82,544.95) scale(1.0000,1.0650)" text-anchor="middle" class="s" font-size="8.80" stroke="#111" stroke-width="0.25">0.8</text>
<line x1="499.40" y1="525.40" x2="499.40" y2="531.40" stroke="#2a2a2a" stroke-width="1.00"/>
<text transform="translate(499.80,544.95) scale(1.0000,1.0650)" text-anchor="middle" class="s" font-size="8.80" stroke="#111" stroke-width="0.25">1.0</text>
<line x1="378.50" y1="523.00" x2="383.90" y2="523.00" stroke="#2a2a2a" stroke-width="1.00"/>
<line x1="378.50" y1="508.50" x2="383.90" y2="508.50" stroke="#2a2a2a" stroke-width="1.00"/>
<line x1="378.50" y1="494.00" x2="383.90" y2="494.00" stroke="#2a2a2a" stroke-width="1.00"/>
<line x1="378.50" y1="479.50" x2="383.90" y2="479.50" stroke="#2a2a2a" stroke-width="1.00"/>
<line x1="378.50" y1="465.00" x2="383.90" y2="465.00" stroke="#2a2a2a" stroke-width="1.00"/>
<text transform="translate(370.30,523.30) rotate(-90)" text-anchor="middle" class="s" font-size="9.10" stroke="#111" stroke-width="0.25">0</text>
<text transform="translate(370.30,508.80) rotate(-90)" text-anchor="middle" class="s" font-size="9.10" stroke="#111" stroke-width="0.25">2</text>
<text transform="translate(370.30,494.30) rotate(-90)" text-anchor="middle" class="s" font-size="9.10" stroke="#111" stroke-width="0.25">4</text>
<text transform="translate(370.30,479.80) rotate(-90)" text-anchor="middle" class="s" font-size="9.10" stroke="#111" stroke-width="0.25">6</text>
<text transform="translate(370.30,465.30) rotate(-90)" text-anchor="middle" class="s" font-size="9.10" stroke="#111" stroke-width="0.25">8</text>
<text transform="translate(355.00,457.00) scale(1.0000,1.0650)" class="r" font-size="18.40" stroke="#111" stroke-width="0.25">L</text>
<text transform="translate(449.40,455.70) scale(1.0000,1.0650)" text-anchor="middle" class="r" font-size="10.60" stroke="#111" stroke-width="0.30">TSS200</text>
<text transform="translate(369.40,566.50) scale(1.0000,1.0650)" class="s" font-size="8.96" xml:space="preserve" stroke="#111" stroke-width="0.25">N = 8290392   Bandwidth = 0.004492</text>
<path d="M388.28,522.54 388.83,522.24 389.35,521.87 389.77,521.43 390.08,520.89 390.29,520.29 390.43,519.66 390.52,519.02 390.59,518.37 390.64,517.73 390.68,517.08 390.72,516.43 390.75,515.78 390.79,515.13 390.83,514.48 390.88,513.83 390.93,513.19 390.99,512.54 391.04,511.89 391.09,511.24 391.14,510.59 391.18,509.95 391.23,509.30 391.27,508.65 391.31,508.00 391.35,507.35 391.39,506.70 391.43,506.05 391.47,505.40 391.51,504.76 391.55,504.11 391.59,503.46 391.63,502.81 391.67,502.16 391.71,501.51 391.76,500.86 391.80,500.22 391.84,499.57 391.89,498.92 391.93,498.27 391.97,497.62 392.01,496.97 392.05,496.32 392.10,495.67 392.14,495.03 392.18,494.38 392.23,493.73 392.27,493.08 392.31,492.43 392.36,491.78 392.41,491.14 392.45,490.49 392.50,489.84 392.54,489.19 392.59,488.54 392.64,487.89 392.68,487.25 392.73,486.60 392.78,485.95 392.82,485.30 392.87,484.65 392.92,484.00 392.97,483.36 393.02,482.71 393.07,482.06 393.12,481.41 393.17,480.76 393.22,480.12 393.27,479.47 393.32,478.82 393.38,478.17 393.43,477.52 393.47,476.88 393.51,476.23 393.55,475.58 393.59,474.93 393.63,474.28 393.67,473.63 393.71,472.98 393.75,472.33 393.80,471.69 393.87,471.04 393.94,470.39 394.03,469.75 394.14,469.11 394.28,468.48 394.45,467.85 394.65,467.24 394.89,466.65 395.22,466.11 395.74,465.80 396.30,466.04 396.69,466.54 397.00,467.09 397.26,467.69 397.47,468.30 397.65,468.92 397.79,469.55 397.91,470.19 398.02,470.83 398.11,471.48 398.20,472.12 398.28,472.76 398.36,473.41 398.44,474.05 398.52,474.70 398.61,475.34 398.70,475.99 398.79,476.63 398.89,477.27 399.00,477.91 399.10,478.56 399.20,479.20 399.30,479.84 399.40,480.48 399.50,481.12 399.60,481.77 399.70,482.41 399.80,483.05 399.91,483.69 400.01,484.34 400.11,484.98 400.21,485.62 400.32,486.26 400.42,486.90 400.52,487.54 400.63,488.19 400.73,488.83 400.83,489.47 400.93,490.11 401.03,490.75 401.13,491.40 401.23,492.04 401.33,492.68 401.43,493.32 401.54,493.96 401.65,494.60 401.76,495.25 401.87,495.88 401.99,496.52 402.12,497.16 402.24,497.80 402.37,498.44 402.50,499.07 402.63,499.71 402.77,500.35 402.91,500.98 403.05,501.62 403.19,502.25 403.35,502.88 403.51,503.51 403.68,504.14 403.86,504.76 404.06,505.38 404.27,506.00 404.49,506.61 404.71,507.22 404.95,507.82 405.20,508.42 405.45,509.02 405.72,509.61 405.99,510.20 406.28,510.78 406.59,511.36 406.91,511.92 407.25,512.47 407.62,513.01 408.01,513.53 408.42,514.03 408.86,514.51 409.31,514.97 409.79,515.41 410.28,515.83 410.80,516.23 411.32,516.60 411.87,516.96 412.42,517.30 412.99,517.62 413.57,517.91 414.15,518.19 414.75,518.44 415.36,518.68 415.97,518.90 416.58,519.11 417.20,519.30 417.83,519.48 418.46,519.64 419.09,519.79 419.72,519.93 420.36,520.06 421.00,520.18 421.64,520.28 422.28,520.38 422.93,520.47 423.57,520.54 424.22,520.62 424.87,520.68 425.51,520.74 426.16,520.79 426.81,520.84 427.46,520.88 428.11,520.92 428.76,520.96 429.40,521.00 430.05,521.03 430.70,521.06 431.35,521.09 432.00,521.12 432.65,521.14 433.30,521.16 433.95,521.18 434.60,521.20 435.25,521.22 435.90,521.23 436.55,521.25 437.20,521.26 437.85,521.27 438.50,521.29 439.15,521.30 439.80,521.31 440.45,521.32 441.10,521.34 441.75,521.35 442.40,521.36 443.05,521.38 443.70,521.39 444.35,521.41 445.00,521.42 445.65,521.43 446.30,521.44 446.95,521.45 447.60,521.46 448.25,521.47 448.90,521.47 449.55,521.48 450.20,521.48 450.85,521.48 451.50,521.48 452.15,521.48 452.80,521.47 453.45,521.46 454.10,521.46 454.75,521.44 455.40,521.43 456.05,521.42 456.70,521.40 457.35,521.38 458.00,521.36 458.65,521.34 459.29,521.31 459.94,521.28 460.59,521.25 461.24,521.21 461.89,521.18 462.54,521.14 463.19,521.09 463.84,521.05 464.49,521.00 465.13,520.95 465.78,520.89 466.43,520.83 467.07,520.76 467.72,520.70 468.37,520.62 469.01,520.55 469.66,520.46 470.30,520.38 470.94,520.29 471.59,520.19 472.23,520.09 472.87,519.98 473.51,519.87 474.15,519.76 474.79,519.64 475.43,519.51 476.06,519.38 476.70,519.24 477.33,519.11 477.97,518.96 478.60,518.82 479.24,518.68 479.87,518.54 480.51,518.42 481.15,518.31 481.79,518.20 482.44,518.11 483.08,518.03 483.73,517.97 484.37,517.94 485.02,517.97 485.65,518.07 486.28,518.23 486.89,518.43 487.50,518.67 488.09,518.93 488.68,519.21 489.26,519.50 489.84,519.80 490.40,520.12 490.97,520.44 491.54,520.75 492.11,521.05 492.70,521.33 493.29,521.60 493.89,521.85 494.50,522.08 495.11,522.29 495.74,522.46 496.37,522.61 497.01,522.73 497.65,522.83 498.28,522.91 498.90,522.97 499.32,523.01" fill="none" stroke="#333" stroke-width="1.10" stroke-linejoin="round"/>
</svg>
</body></html>
